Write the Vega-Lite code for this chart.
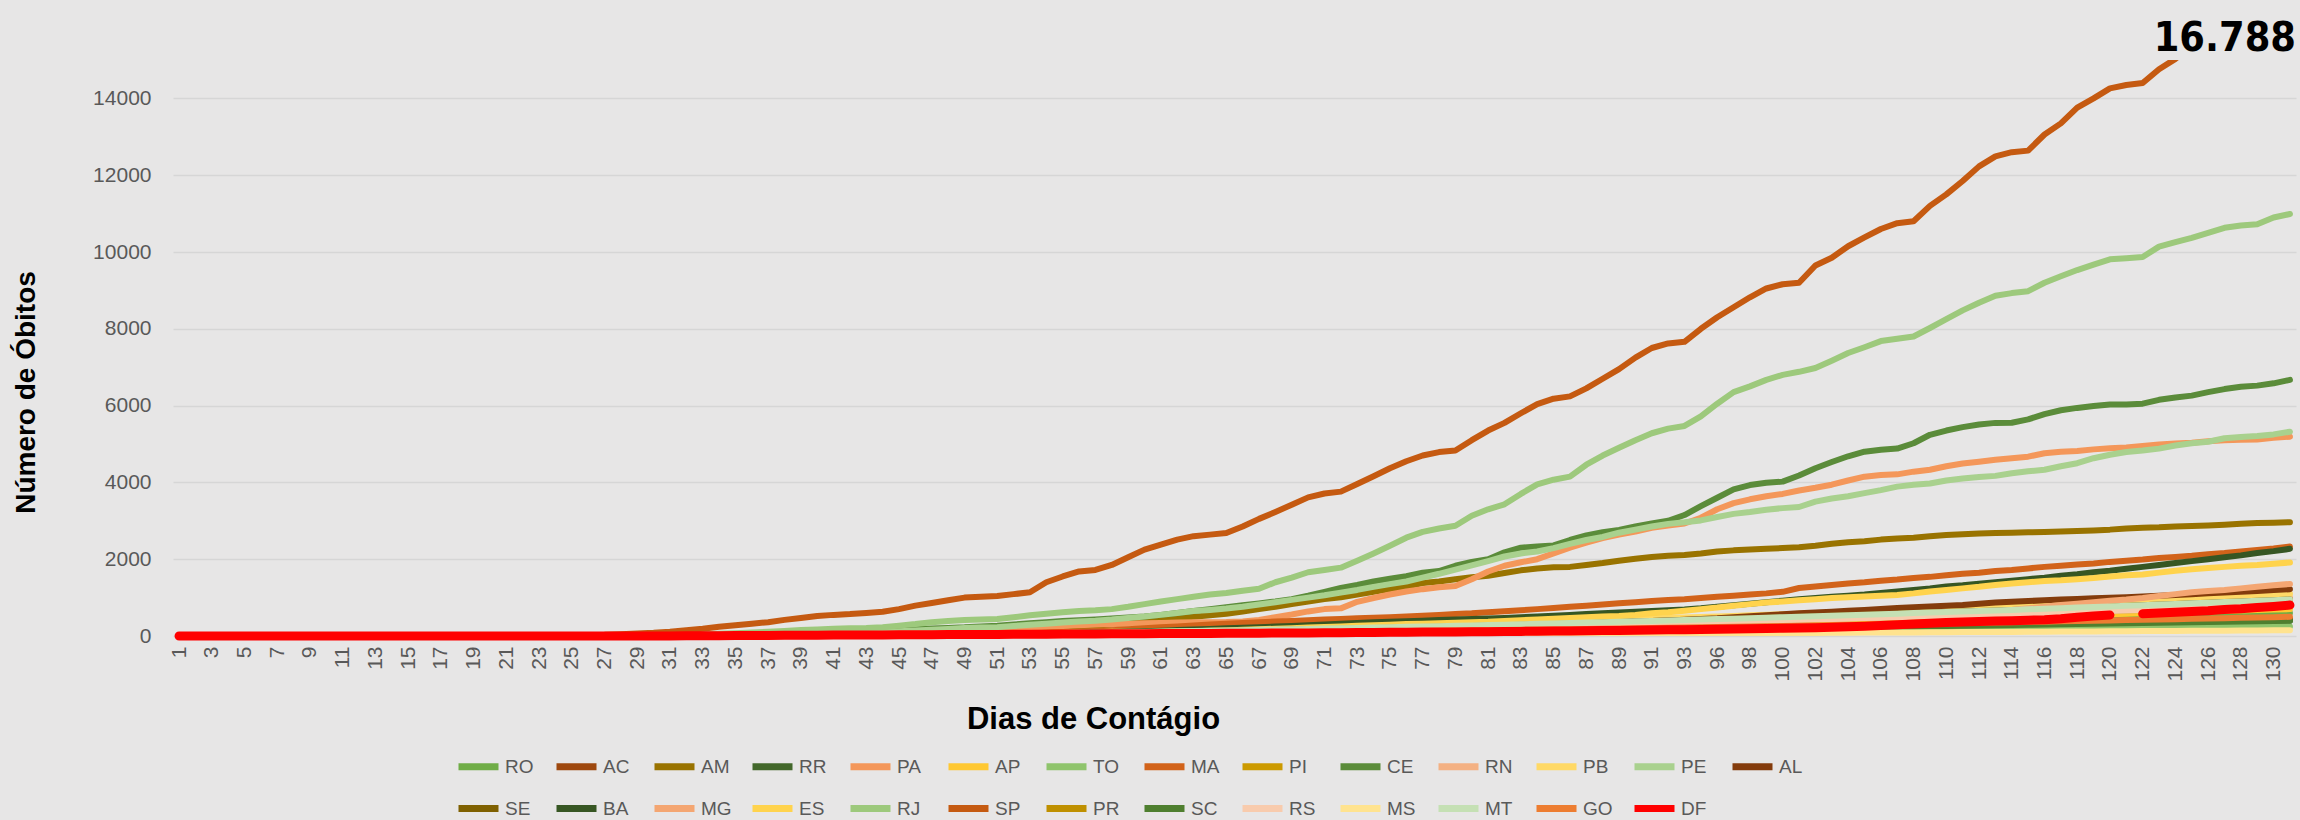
{"$schema":"https://vega.github.io/schema/vega-lite/v6.json","width":2123,"height":576,"autosize":{"type":"none"},"padding":{"left":173,"top":60,"right":4,"bottom":184},"background":"#e7e6e6","config":{"view":{"stroke":null},"font":"Liberation Sans"},"title":{"text":"16.788","anchor":"end","frame":"group","fontSize":41,"fontWeight":"bold","font":"Liberation Sans Narrow, DejaVu Sans Condensed, sans-serif","color":"#000000","baseline":"alphabetic","offset":-32},
"data":{"values":[
{"d":41,"s":"RO","v":0},{"d":42,"s":"RO","v":3},{"d":43,"s":"RO","v":5},{"d":44,"s":"RO","v":8},{"d":45,"s":"RO","v":11},{"d":46,"s":"RO","v":14},{"d":47,"s":"RO","v":18},{"d":48,"s":"RO","v":21},{"d":49,"s":"RO","v":25},{"d":50,"s":"RO","v":28},{"d":51,"s":"RO","v":32},{"d":52,"s":"RO","v":35},{"d":53,"s":"RO","v":39},{"d":54,"s":"RO","v":43},{"d":55,"s":"RO","v":47},{"d":56,"s":"RO","v":50},{"d":57,"s":"RO","v":55},{"d":58,"s":"RO","v":59},{"d":59,"s":"RO","v":63},{"d":60,"s":"RO","v":68},{"d":61,"s":"RO","v":72},{"d":62,"s":"RO","v":77},{"d":63,"s":"RO","v":82},{"d":64,"s":"RO","v":86},{"d":65,"s":"RO","v":91},{"d":66,"s":"RO","v":96},{"d":67,"s":"RO","v":101},{"d":68,"s":"RO","v":106},{"d":69,"s":"RO","v":111},{"d":70,"s":"RO","v":116},{"d":71,"s":"RO","v":122},{"d":72,"s":"RO","v":127},{"d":73,"s":"RO","v":133},{"d":74,"s":"RO","v":139},{"d":75,"s":"RO","v":144},{"d":76,"s":"RO","v":150},{"d":77,"s":"RO","v":156},{"d":78,"s":"RO","v":162},{"d":79,"s":"RO","v":168},{"d":80,"s":"RO","v":174},{"d":81,"s":"RO","v":181},{"d":82,"s":"RO","v":187},{"d":83,"s":"RO","v":193},{"d":84,"s":"RO","v":200},{"d":85,"s":"RO","v":206},{"d":86,"s":"RO","v":214},{"d":87,"s":"RO","v":220},{"d":88,"s":"RO","v":227},{"d":89,"s":"RO","v":234},{"d":90,"s":"RO","v":241},{"d":91,"s":"RO","v":248},{"d":92,"s":"RO","v":256},{"d":93,"s":"RO","v":263},{"d":94,"s":"RO","v":271},{"d":96,"s":"RO","v":278},{"d":97,"s":"RO","v":286},{"d":98,"s":"RO","v":293},{"d":99,"s":"RO","v":301},{"d":100,"s":"RO","v":309},{"d":101,"s":"RO","v":317},{"d":102,"s":"RO","v":325},{"d":103,"s":"RO","v":334},{"d":104,"s":"RO","v":342},{"d":105,"s":"RO","v":350},{"d":106,"s":"RO","v":359},{"d":107,"s":"RO","v":367},{"d":108,"s":"RO","v":376},{"d":109,"s":"RO","v":385},{"d":110,"s":"RO","v":394},{"d":111,"s":"RO","v":403},{"d":112,"s":"RO","v":412},{"d":113,"s":"RO","v":421},{"d":114,"s":"RO","v":430},{"d":115,"s":"RO","v":439},{"d":116,"s":"RO","v":448},{"d":117,"s":"RO","v":458},{"d":118,"s":"RO","v":467},{"d":119,"s":"RO","v":477},{"d":120,"s":"RO","v":487},{"d":121,"s":"RO","v":497},{"d":122,"s":"RO","v":506},{"d":123,"s":"RO","v":517},{"d":124,"s":"RO","v":527},{"d":125,"s":"RO","v":537},{"d":126,"s":"RO","v":547},{"d":127,"s":"RO","v":557},{"d":128,"s":"RO","v":568},{"d":129,"s":"RO","v":578},{"d":130,"s":"RO","v":589},{"d":131,"s":"RO","v":600},
{"d":41,"s":"AC","v":0},{"d":42,"s":"AC","v":2},{"d":43,"s":"AC","v":4},{"d":44,"s":"AC","v":6},{"d":45,"s":"AC","v":9},{"d":46,"s":"AC","v":11},{"d":47,"s":"AC","v":14},{"d":48,"s":"AC","v":16},{"d":49,"s":"AC","v":18},{"d":50,"s":"AC","v":21},{"d":51,"s":"AC","v":24},{"d":52,"s":"AC","v":27},{"d":53,"s":"AC","v":29},{"d":54,"s":"AC","v":32},{"d":55,"s":"AC","v":35},{"d":56,"s":"AC","v":38},{"d":57,"s":"AC","v":41},{"d":58,"s":"AC","v":44},{"d":59,"s":"AC","v":47},{"d":60,"s":"AC","v":51},{"d":61,"s":"AC","v":54},{"d":62,"s":"AC","v":58},{"d":63,"s":"AC","v":61},{"d":64,"s":"AC","v":64},{"d":65,"s":"AC","v":68},{"d":66,"s":"AC","v":72},{"d":67,"s":"AC","v":76},{"d":68,"s":"AC","v":80},{"d":69,"s":"AC","v":83},{"d":70,"s":"AC","v":87},{"d":71,"s":"AC","v":91},{"d":72,"s":"AC","v":95},{"d":73,"s":"AC","v":99},{"d":74,"s":"AC","v":104},{"d":75,"s":"AC","v":108},{"d":76,"s":"AC","v":113},{"d":77,"s":"AC","v":117},{"d":78,"s":"AC","v":122},{"d":79,"s":"AC","v":126},{"d":80,"s":"AC","v":131},{"d":81,"s":"AC","v":135},{"d":82,"s":"AC","v":140},{"d":83,"s":"AC","v":145},{"d":84,"s":"AC","v":150},{"d":85,"s":"AC","v":155},{"d":86,"s":"AC","v":160},{"d":87,"s":"AC","v":165},{"d":88,"s":"AC","v":171},{"d":89,"s":"AC","v":176},{"d":90,"s":"AC","v":181},{"d":91,"s":"AC","v":186},{"d":92,"s":"AC","v":192},{"d":93,"s":"AC","v":198},{"d":94,"s":"AC","v":203},{"d":96,"s":"AC","v":209},{"d":97,"s":"AC","v":214},{"d":98,"s":"AC","v":220},{"d":99,"s":"AC","v":226},{"d":100,"s":"AC","v":232},{"d":101,"s":"AC","v":238},{"d":102,"s":"AC","v":244},{"d":103,"s":"AC","v":250},{"d":104,"s":"AC","v":257},{"d":105,"s":"AC","v":263},{"d":106,"s":"AC","v":269},{"d":107,"s":"AC","v":275},{"d":108,"s":"AC","v":282},{"d":109,"s":"AC","v":288},{"d":110,"s":"AC","v":295},{"d":111,"s":"AC","v":302},{"d":112,"s":"AC","v":309},{"d":113,"s":"AC","v":315},{"d":114,"s":"AC","v":322},{"d":115,"s":"AC","v":329},{"d":116,"s":"AC","v":336},{"d":117,"s":"AC","v":343},{"d":118,"s":"AC","v":351},{"d":119,"s":"AC","v":358},{"d":120,"s":"AC","v":365},{"d":121,"s":"AC","v":373},{"d":122,"s":"AC","v":380},{"d":123,"s":"AC","v":387},{"d":124,"s":"AC","v":395},{"d":125,"s":"AC","v":403},{"d":126,"s":"AC","v":410},{"d":127,"s":"AC","v":418},{"d":128,"s":"AC","v":426},{"d":129,"s":"AC","v":434},{"d":130,"s":"AC","v":442},{"d":131,"s":"AC","v":450},
{"d":34,"s":"AM","v":0},{"d":35,"s":"AM","v":1},{"d":36,"s":"AM","v":2},{"d":37,"s":"AM","v":3},{"d":38,"s":"AM","v":4},{"d":39,"s":"AM","v":6},{"d":40,"s":"AM","v":8},{"d":41,"s":"AM","v":12},{"d":42,"s":"AM","v":16},{"d":43,"s":"AM","v":20},{"d":44,"s":"AM","v":25},{"d":45,"s":"AM","v":30},{"d":46,"s":"AM","v":40},{"d":47,"s":"AM","v":50},{"d":48,"s":"AM","v":62},{"d":49,"s":"AM","v":75},{"d":50,"s":"AM","v":90},{"d":51,"s":"AM","v":105},{"d":52,"s":"AM","v":125},{"d":53,"s":"AM","v":150},{"d":54,"s":"AM","v":180},{"d":55,"s":"AM","v":210},{"d":56,"s":"AM","v":240},{"d":57,"s":"AM","v":270},{"d":58,"s":"AM","v":300},{"d":59,"s":"AM","v":340},{"d":60,"s":"AM","v":380},{"d":61,"s":"AM","v":420},{"d":62,"s":"AM","v":460},{"d":63,"s":"AM","v":500},{"d":64,"s":"AM","v":540},{"d":65,"s":"AM","v":580},{"d":66,"s":"AM","v":640},{"d":67,"s":"AM","v":700},{"d":68,"s":"AM","v":760},{"d":69,"s":"AM","v":830},{"d":70,"s":"AM","v":900},{"d":71,"s":"AM","v":960},{"d":72,"s":"AM","v":1010},{"d":73,"s":"AM","v":1080},{"d":74,"s":"AM","v":1150},{"d":75,"s":"AM","v":1220},{"d":76,"s":"AM","v":1290},{"d":77,"s":"AM","v":1380},{"d":78,"s":"AM","v":1420},{"d":79,"s":"AM","v":1480},{"d":80,"s":"AM","v":1530},{"d":81,"s":"AM","v":1570},{"d":82,"s":"AM","v":1640},{"d":83,"s":"AM","v":1710},{"d":84,"s":"AM","v":1760},{"d":85,"s":"AM","v":1790},{"d":86,"s":"AM","v":1800},{"d":87,"s":"AM","v":1850},{"d":88,"s":"AM","v":1900},{"d":89,"s":"AM","v":1960},{"d":90,"s":"AM","v":2010},{"d":91,"s":"AM","v":2060},{"d":92,"s":"AM","v":2090},{"d":93,"s":"AM","v":2110},{"d":94,"s":"AM","v":2150},{"d":96,"s":"AM","v":2200},{"d":97,"s":"AM","v":2230},{"d":98,"s":"AM","v":2250},{"d":99,"s":"AM","v":2270},{"d":100,"s":"AM","v":2290},{"d":101,"s":"AM","v":2310},{"d":102,"s":"AM","v":2350},{"d":103,"s":"AM","v":2400},{"d":104,"s":"AM","v":2440},{"d":105,"s":"AM","v":2470},{"d":106,"s":"AM","v":2510},{"d":107,"s":"AM","v":2540},{"d":108,"s":"AM","v":2560},{"d":109,"s":"AM","v":2600},{"d":110,"s":"AM","v":2630},{"d":111,"s":"AM","v":2650},{"d":112,"s":"AM","v":2670},{"d":113,"s":"AM","v":2680},{"d":114,"s":"AM","v":2690},{"d":115,"s":"AM","v":2700},{"d":116,"s":"AM","v":2710},{"d":117,"s":"AM","v":2720},{"d":118,"s":"AM","v":2735},{"d":119,"s":"AM","v":2750},{"d":120,"s":"AM","v":2770},{"d":121,"s":"AM","v":2800},{"d":122,"s":"AM","v":2820},{"d":123,"s":"AM","v":2830},{"d":124,"s":"AM","v":2850},{"d":125,"s":"AM","v":2865},{"d":126,"s":"AM","v":2880},{"d":127,"s":"AM","v":2900},{"d":128,"s":"AM","v":2925},{"d":129,"s":"AM","v":2940},{"d":130,"s":"AM","v":2950},{"d":131,"s":"AM","v":2965},
{"d":41,"s":"RR","v":0},{"d":42,"s":"RR","v":2},{"d":43,"s":"RR","v":4},{"d":44,"s":"RR","v":6},{"d":45,"s":"RR","v":8},{"d":46,"s":"RR","v":10},{"d":47,"s":"RR","v":12},{"d":48,"s":"RR","v":14},{"d":49,"s":"RR","v":16},{"d":50,"s":"RR","v":19},{"d":51,"s":"RR","v":21},{"d":52,"s":"RR","v":24},{"d":53,"s":"RR","v":26},{"d":54,"s":"RR","v":28},{"d":55,"s":"RR","v":31},{"d":56,"s":"RR","v":34},{"d":57,"s":"RR","v":36},{"d":58,"s":"RR","v":39},{"d":59,"s":"RR","v":42},{"d":60,"s":"RR","v":45},{"d":61,"s":"RR","v":48},{"d":62,"s":"RR","v":51},{"d":63,"s":"RR","v":54},{"d":64,"s":"RR","v":57},{"d":65,"s":"RR","v":60},{"d":66,"s":"RR","v":64},{"d":67,"s":"RR","v":67},{"d":68,"s":"RR","v":71},{"d":69,"s":"RR","v":74},{"d":70,"s":"RR","v":78},{"d":71,"s":"RR","v":81},{"d":72,"s":"RR","v":85},{"d":73,"s":"RR","v":88},{"d":74,"s":"RR","v":92},{"d":75,"s":"RR","v":96},{"d":76,"s":"RR","v":100},{"d":77,"s":"RR","v":104},{"d":78,"s":"RR","v":108},{"d":79,"s":"RR","v":112},{"d":80,"s":"RR","v":116},{"d":81,"s":"RR","v":120},{"d":82,"s":"RR","v":125},{"d":83,"s":"RR","v":129},{"d":84,"s":"RR","v":133},{"d":85,"s":"RR","v":138},{"d":86,"s":"RR","v":142},{"d":87,"s":"RR","v":147},{"d":88,"s":"RR","v":152},{"d":89,"s":"RR","v":156},{"d":90,"s":"RR","v":161},{"d":91,"s":"RR","v":166},{"d":92,"s":"RR","v":170},{"d":93,"s":"RR","v":176},{"d":94,"s":"RR","v":180},{"d":96,"s":"RR","v":186},{"d":97,"s":"RR","v":190},{"d":98,"s":"RR","v":196},{"d":99,"s":"RR","v":201},{"d":100,"s":"RR","v":206},{"d":101,"s":"RR","v":212},{"d":102,"s":"RR","v":217},{"d":103,"s":"RR","v":222},{"d":104,"s":"RR","v":228},{"d":105,"s":"RR","v":234},{"d":106,"s":"RR","v":239},{"d":107,"s":"RR","v":245},{"d":108,"s":"RR","v":251},{"d":109,"s":"RR","v":256},{"d":110,"s":"RR","v":262},{"d":111,"s":"RR","v":268},{"d":112,"s":"RR","v":274},{"d":113,"s":"RR","v":280},{"d":114,"s":"RR","v":286},{"d":115,"s":"RR","v":293},{"d":116,"s":"RR","v":299},{"d":117,"s":"RR","v":305},{"d":118,"s":"RR","v":312},{"d":119,"s":"RR","v":318},{"d":120,"s":"RR","v":324},{"d":121,"s":"RR","v":331},{"d":122,"s":"RR","v":338},{"d":123,"s":"RR","v":344},{"d":124,"s":"RR","v":351},{"d":125,"s":"RR","v":358},{"d":126,"s":"RR","v":365},{"d":127,"s":"RR","v":372},{"d":128,"s":"RR","v":379},{"d":129,"s":"RR","v":386},{"d":130,"s":"RR","v":393},{"d":131,"s":"RR","v":400},
{"d":31,"s":"PA","v":0},{"d":32,"s":"PA","v":1},{"d":33,"s":"PA","v":2},{"d":34,"s":"PA","v":3},{"d":35,"s":"PA","v":5},{"d":36,"s":"PA","v":8},{"d":37,"s":"PA","v":12},{"d":38,"s":"PA","v":17},{"d":39,"s":"PA","v":22},{"d":40,"s":"PA","v":28},{"d":41,"s":"PA","v":35},{"d":42,"s":"PA","v":42},{"d":43,"s":"PA","v":50},{"d":44,"s":"PA","v":60},{"d":45,"s":"PA","v":75},{"d":46,"s":"PA","v":90},{"d":47,"s":"PA","v":105},{"d":48,"s":"PA","v":120},{"d":49,"s":"PA","v":140},{"d":50,"s":"PA","v":160},{"d":51,"s":"PA","v":180},{"d":52,"s":"PA","v":200},{"d":53,"s":"PA","v":220},{"d":54,"s":"PA","v":240},{"d":55,"s":"PA","v":260},{"d":56,"s":"PA","v":280},{"d":57,"s":"PA","v":300},{"d":58,"s":"PA","v":310},{"d":59,"s":"PA","v":320},{"d":60,"s":"PA","v":330},{"d":61,"s":"PA","v":340},{"d":62,"s":"PA","v":350},{"d":63,"s":"PA","v":355},{"d":64,"s":"PA","v":360},{"d":65,"s":"PA","v":365},{"d":66,"s":"PA","v":380},{"d":67,"s":"PA","v":420},{"d":68,"s":"PA","v":490},{"d":69,"s":"PA","v":560},{"d":70,"s":"PA","v":640},{"d":71,"s":"PA","v":700},{"d":72,"s":"PA","v":720},{"d":73,"s":"PA","v":890},{"d":74,"s":"PA","v":990},{"d":75,"s":"PA","v":1080},{"d":76,"s":"PA","v":1160},{"d":77,"s":"PA","v":1220},{"d":78,"s":"PA","v":1270},{"d":79,"s":"PA","v":1300},{"d":80,"s":"PA","v":1480},{"d":81,"s":"PA","v":1680},{"d":82,"s":"PA","v":1830},{"d":83,"s":"PA","v":1920},{"d":84,"s":"PA","v":2000},{"d":85,"s":"PA","v":2150},{"d":86,"s":"PA","v":2300},{"d":87,"s":"PA","v":2430},{"d":88,"s":"PA","v":2550},{"d":89,"s":"PA","v":2640},{"d":90,"s":"PA","v":2720},{"d":91,"s":"PA","v":2820},{"d":92,"s":"PA","v":2880},{"d":93,"s":"PA","v":2930},{"d":94,"s":"PA","v":3080},{"d":96,"s":"PA","v":3300},{"d":97,"s":"PA","v":3460},{"d":98,"s":"PA","v":3560},{"d":99,"s":"PA","v":3640},{"d":100,"s":"PA","v":3700},{"d":101,"s":"PA","v":3790},{"d":102,"s":"PA","v":3860},{"d":103,"s":"PA","v":3940},{"d":104,"s":"PA","v":4050},{"d":105,"s":"PA","v":4150},{"d":106,"s":"PA","v":4190},{"d":107,"s":"PA","v":4210},{"d":108,"s":"PA","v":4280},{"d":109,"s":"PA","v":4330},{"d":110,"s":"PA","v":4420},{"d":111,"s":"PA","v":4490},{"d":112,"s":"PA","v":4540},{"d":113,"s":"PA","v":4590},{"d":114,"s":"PA","v":4630},{"d":115,"s":"PA","v":4670},{"d":116,"s":"PA","v":4760},{"d":117,"s":"PA","v":4800},{"d":118,"s":"PA","v":4820},{"d":119,"s":"PA","v":4860},{"d":120,"s":"PA","v":4890},{"d":121,"s":"PA","v":4910},{"d":122,"s":"PA","v":4950},{"d":123,"s":"PA","v":4990},{"d":124,"s":"PA","v":5010},{"d":125,"s":"PA","v":5030},{"d":126,"s":"PA","v":5070},{"d":127,"s":"PA","v":5100},{"d":128,"s":"PA","v":5110},{"d":129,"s":"PA","v":5120},{"d":130,"s":"PA","v":5160},{"d":131,"s":"PA","v":5190},
{"d":41,"s":"AP","v":0},{"d":42,"s":"AP","v":4},{"d":43,"s":"AP","v":6},{"d":44,"s":"AP","v":10},{"d":45,"s":"AP","v":13},{"d":46,"s":"AP","v":17},{"d":47,"s":"AP","v":21},{"d":48,"s":"AP","v":25},{"d":49,"s":"AP","v":29},{"d":50,"s":"AP","v":33},{"d":51,"s":"AP","v":37},{"d":52,"s":"AP","v":41},{"d":53,"s":"AP","v":46},{"d":54,"s":"AP","v":50},{"d":55,"s":"AP","v":55},{"d":56,"s":"AP","v":59},{"d":57,"s":"AP","v":64},{"d":58,"s":"AP","v":69},{"d":59,"s":"AP","v":74},{"d":60,"s":"AP","v":79},{"d":61,"s":"AP","v":84},{"d":62,"s":"AP","v":90},{"d":63,"s":"AP","v":95},{"d":64,"s":"AP","v":100},{"d":65,"s":"AP","v":106},{"d":66,"s":"AP","v":112},{"d":67,"s":"AP","v":118},{"d":68,"s":"AP","v":124},{"d":69,"s":"AP","v":130},{"d":70,"s":"AP","v":136},{"d":71,"s":"AP","v":142},{"d":72,"s":"AP","v":148},{"d":73,"s":"AP","v":155},{"d":74,"s":"AP","v":162},{"d":75,"s":"AP","v":168},{"d":76,"s":"AP","v":175},{"d":77,"s":"AP","v":182},{"d":78,"s":"AP","v":189},{"d":79,"s":"AP","v":196},{"d":80,"s":"AP","v":203},{"d":81,"s":"AP","v":211},{"d":82,"s":"AP","v":218},{"d":83,"s":"AP","v":225},{"d":84,"s":"AP","v":233},{"d":85,"s":"AP","v":241},{"d":86,"s":"AP","v":249},{"d":87,"s":"AP","v":257},{"d":88,"s":"AP","v":265},{"d":89,"s":"AP","v":273},{"d":90,"s":"AP","v":281},{"d":91,"s":"AP","v":290},{"d":92,"s":"AP","v":298},{"d":93,"s":"AP","v":307},{"d":94,"s":"AP","v":316},{"d":96,"s":"AP","v":325},{"d":97,"s":"AP","v":333},{"d":98,"s":"AP","v":342},{"d":99,"s":"AP","v":351},{"d":100,"s":"AP","v":361},{"d":101,"s":"AP","v":370},{"d":102,"s":"AP","v":379},{"d":103,"s":"AP","v":389},{"d":104,"s":"AP","v":399},{"d":105,"s":"AP","v":409},{"d":106,"s":"AP","v":419},{"d":107,"s":"AP","v":428},{"d":108,"s":"AP","v":439},{"d":109,"s":"AP","v":449},{"d":110,"s":"AP","v":459},{"d":111,"s":"AP","v":470},{"d":112,"s":"AP","v":480},{"d":113,"s":"AP","v":491},{"d":114,"s":"AP","v":501},{"d":115,"s":"AP","v":512},{"d":116,"s":"AP","v":523},{"d":117,"s":"AP","v":534},{"d":118,"s":"AP","v":545},{"d":119,"s":"AP","v":557},{"d":120,"s":"AP","v":568},{"d":121,"s":"AP","v":580},{"d":122,"s":"AP","v":591},{"d":123,"s":"AP","v":603},{"d":124,"s":"AP","v":615},{"d":125,"s":"AP","v":627},{"d":126,"s":"AP","v":638},{"d":127,"s":"AP","v":650},{"d":128,"s":"AP","v":663},{"d":129,"s":"AP","v":675},{"d":130,"s":"AP","v":687},{"d":131,"s":"AP","v":700},
{"d":41,"s":"TO","v":0},{"d":42,"s":"TO","v":1},{"d":43,"s":"TO","v":2},{"d":44,"s":"TO","v":4},{"d":45,"s":"TO","v":5},{"d":46,"s":"TO","v":6},{"d":47,"s":"TO","v":8},{"d":48,"s":"TO","v":9},{"d":49,"s":"TO","v":10},{"d":50,"s":"TO","v":12},{"d":51,"s":"TO","v":13},{"d":52,"s":"TO","v":15},{"d":53,"s":"TO","v":16},{"d":54,"s":"TO","v":18},{"d":55,"s":"TO","v":20},{"d":56,"s":"TO","v":21},{"d":57,"s":"TO","v":23},{"d":58,"s":"TO","v":25},{"d":59,"s":"TO","v":26},{"d":60,"s":"TO","v":28},{"d":61,"s":"TO","v":30},{"d":62,"s":"TO","v":32},{"d":63,"s":"TO","v":34},{"d":64,"s":"TO","v":36},{"d":65,"s":"TO","v":38},{"d":66,"s":"TO","v":40},{"d":67,"s":"TO","v":42},{"d":68,"s":"TO","v":44},{"d":69,"s":"TO","v":46},{"d":70,"s":"TO","v":49},{"d":71,"s":"TO","v":51},{"d":72,"s":"TO","v":53},{"d":73,"s":"TO","v":55},{"d":74,"s":"TO","v":58},{"d":75,"s":"TO","v":60},{"d":76,"s":"TO","v":63},{"d":77,"s":"TO","v":65},{"d":78,"s":"TO","v":68},{"d":79,"s":"TO","v":70},{"d":80,"s":"TO","v":73},{"d":81,"s":"TO","v":75},{"d":82,"s":"TO","v":78},{"d":83,"s":"TO","v":81},{"d":84,"s":"TO","v":83},{"d":85,"s":"TO","v":86},{"d":86,"s":"TO","v":89},{"d":87,"s":"TO","v":92},{"d":88,"s":"TO","v":95},{"d":89,"s":"TO","v":98},{"d":90,"s":"TO","v":101},{"d":91,"s":"TO","v":104},{"d":92,"s":"TO","v":107},{"d":93,"s":"TO","v":110},{"d":94,"s":"TO","v":113},{"d":96,"s":"TO","v":116},{"d":97,"s":"TO","v":119},{"d":98,"s":"TO","v":122},{"d":99,"s":"TO","v":126},{"d":100,"s":"TO","v":129},{"d":101,"s":"TO","v":132},{"d":102,"s":"TO","v":136},{"d":103,"s":"TO","v":139},{"d":104,"s":"TO","v":143},{"d":105,"s":"TO","v":146},{"d":106,"s":"TO","v":150},{"d":107,"s":"TO","v":153},{"d":108,"s":"TO","v":157},{"d":109,"s":"TO","v":160},{"d":110,"s":"TO","v":164},{"d":111,"s":"TO","v":168},{"d":112,"s":"TO","v":172},{"d":113,"s":"TO","v":175},{"d":114,"s":"TO","v":179},{"d":115,"s":"TO","v":183},{"d":116,"s":"TO","v":187},{"d":117,"s":"TO","v":191},{"d":118,"s":"TO","v":195},{"d":119,"s":"TO","v":199},{"d":120,"s":"TO","v":203},{"d":121,"s":"TO","v":207},{"d":122,"s":"TO","v":211},{"d":123,"s":"TO","v":215},{"d":124,"s":"TO","v":220},{"d":125,"s":"TO","v":224},{"d":126,"s":"TO","v":228},{"d":127,"s":"TO","v":232},{"d":128,"s":"TO","v":237},{"d":129,"s":"TO","v":241},{"d":130,"s":"TO","v":246},{"d":131,"s":"TO","v":250},
{"d":37,"s":"MA","v":0},{"d":38,"s":"MA","v":1},{"d":39,"s":"MA","v":2},{"d":40,"s":"MA","v":4},{"d":41,"s":"MA","v":6},{"d":42,"s":"MA","v":8},{"d":43,"s":"MA","v":10},{"d":44,"s":"MA","v":13},{"d":45,"s":"MA","v":17},{"d":46,"s":"MA","v":22},{"d":47,"s":"MA","v":28},{"d":48,"s":"MA","v":35},{"d":49,"s":"MA","v":42},{"d":50,"s":"MA","v":50},{"d":51,"s":"MA","v":58},{"d":52,"s":"MA","v":66},{"d":53,"s":"MA","v":75},{"d":54,"s":"MA","v":85},{"d":55,"s":"MA","v":100},{"d":56,"s":"MA","v":115},{"d":57,"s":"MA","v":130},{"d":58,"s":"MA","v":150},{"d":59,"s":"MA","v":175},{"d":60,"s":"MA","v":200},{"d":61,"s":"MA","v":225},{"d":62,"s":"MA","v":250},{"d":63,"s":"MA","v":275},{"d":64,"s":"MA","v":300},{"d":65,"s":"MA","v":320},{"d":66,"s":"MA","v":340},{"d":67,"s":"MA","v":360},{"d":68,"s":"MA","v":375},{"d":69,"s":"MA","v":390},{"d":70,"s":"MA","v":410},{"d":71,"s":"MA","v":430},{"d":72,"s":"MA","v":445},{"d":73,"s":"MA","v":460},{"d":74,"s":"MA","v":475},{"d":75,"s":"MA","v":490},{"d":76,"s":"MA","v":510},{"d":77,"s":"MA","v":530},{"d":78,"s":"MA","v":550},{"d":79,"s":"MA","v":570},{"d":80,"s":"MA","v":590},{"d":81,"s":"MA","v":620},{"d":82,"s":"MA","v":645},{"d":83,"s":"MA","v":670},{"d":84,"s":"MA","v":700},{"d":85,"s":"MA","v":730},{"d":86,"s":"MA","v":760},{"d":87,"s":"MA","v":790},{"d":88,"s":"MA","v":820},{"d":89,"s":"MA","v":850},{"d":90,"s":"MA","v":880},{"d":91,"s":"MA","v":910},{"d":92,"s":"MA","v":940},{"d":93,"s":"MA","v":960},{"d":94,"s":"MA","v":990},{"d":96,"s":"MA","v":1020},{"d":97,"s":"MA","v":1050},{"d":98,"s":"MA","v":1080},{"d":99,"s":"MA","v":1110},{"d":100,"s":"MA","v":1150},{"d":101,"s":"MA","v":1250},{"d":102,"s":"MA","v":1290},{"d":103,"s":"MA","v":1330},{"d":104,"s":"MA","v":1370},{"d":105,"s":"MA","v":1400},{"d":106,"s":"MA","v":1440},{"d":107,"s":"MA","v":1470},{"d":108,"s":"MA","v":1510},{"d":109,"s":"MA","v":1540},{"d":110,"s":"MA","v":1580},{"d":111,"s":"MA","v":1620},{"d":112,"s":"MA","v":1650},{"d":113,"s":"MA","v":1690},{"d":114,"s":"MA","v":1720},{"d":115,"s":"MA","v":1760},{"d":116,"s":"MA","v":1800},{"d":117,"s":"MA","v":1830},{"d":118,"s":"MA","v":1860},{"d":119,"s":"MA","v":1890},{"d":120,"s":"MA","v":1930},{"d":121,"s":"MA","v":1960},{"d":122,"s":"MA","v":1990},{"d":123,"s":"MA","v":2030},{"d":124,"s":"MA","v":2060},{"d":125,"s":"MA","v":2090},{"d":126,"s":"MA","v":2130},{"d":127,"s":"MA","v":2160},{"d":128,"s":"MA","v":2200},{"d":129,"s":"MA","v":2240},{"d":130,"s":"MA","v":2280},{"d":131,"s":"MA","v":2330},
{"d":41,"s":"PI","v":0},{"d":42,"s":"PI","v":4},{"d":43,"s":"PI","v":7},{"d":44,"s":"PI","v":11},{"d":45,"s":"PI","v":15},{"d":46,"s":"PI","v":19},{"d":47,"s":"PI","v":24},{"d":48,"s":"PI","v":28},{"d":49,"s":"PI","v":33},{"d":50,"s":"PI","v":38},{"d":51,"s":"PI","v":42},{"d":52,"s":"PI","v":47},{"d":53,"s":"PI","v":52},{"d":54,"s":"PI","v":57},{"d":55,"s":"PI","v":62},{"d":56,"s":"PI","v":67},{"d":57,"s":"PI","v":73},{"d":58,"s":"PI","v":78},{"d":59,"s":"PI","v":84},{"d":60,"s":"PI","v":90},{"d":61,"s":"PI","v":96},{"d":62,"s":"PI","v":102},{"d":63,"s":"PI","v":109},{"d":64,"s":"PI","v":114},{"d":65,"s":"PI","v":121},{"d":66,"s":"PI","v":128},{"d":67,"s":"PI","v":134},{"d":68,"s":"PI","v":142},{"d":69,"s":"PI","v":148},{"d":70,"s":"PI","v":155},{"d":71,"s":"PI","v":162},{"d":72,"s":"PI","v":170},{"d":73,"s":"PI","v":177},{"d":74,"s":"PI","v":185},{"d":75,"s":"PI","v":192},{"d":76,"s":"PI","v":200},{"d":77,"s":"PI","v":208},{"d":78,"s":"PI","v":216},{"d":79,"s":"PI","v":224},{"d":80,"s":"PI","v":232},{"d":81,"s":"PI","v":241},{"d":82,"s":"PI","v":250},{"d":83,"s":"PI","v":258},{"d":84,"s":"PI","v":266},{"d":85,"s":"PI","v":275},{"d":86,"s":"PI","v":285},{"d":87,"s":"PI","v":294},{"d":88,"s":"PI","v":303},{"d":89,"s":"PI","v":312},{"d":90,"s":"PI","v":322},{"d":91,"s":"PI","v":331},{"d":92,"s":"PI","v":341},{"d":93,"s":"PI","v":351},{"d":94,"s":"PI","v":361},{"d":96,"s":"PI","v":371},{"d":97,"s":"PI","v":381},{"d":98,"s":"PI","v":391},{"d":99,"s":"PI","v":402},{"d":100,"s":"PI","v":412},{"d":101,"s":"PI","v":423},{"d":102,"s":"PI","v":434},{"d":103,"s":"PI","v":445},{"d":104,"s":"PI","v":456},{"d":105,"s":"PI","v":467},{"d":106,"s":"PI","v":478},{"d":107,"s":"PI","v":490},{"d":108,"s":"PI","v":502},{"d":109,"s":"PI","v":513},{"d":110,"s":"PI","v":525},{"d":111,"s":"PI","v":537},{"d":112,"s":"PI","v":549},{"d":113,"s":"PI","v":561},{"d":114,"s":"PI","v":573},{"d":115,"s":"PI","v":586},{"d":116,"s":"PI","v":598},{"d":117,"s":"PI","v":610},{"d":118,"s":"PI","v":623},{"d":119,"s":"PI","v":636},{"d":120,"s":"PI","v":649},{"d":121,"s":"PI","v":662},{"d":122,"s":"PI","v":675},{"d":123,"s":"PI","v":689},{"d":124,"s":"PI","v":702},{"d":125,"s":"PI","v":716},{"d":126,"s":"PI","v":730},{"d":127,"s":"PI","v":743},{"d":128,"s":"PI","v":758},{"d":129,"s":"PI","v":771},{"d":130,"s":"PI","v":786},{"d":131,"s":"PI","v":800},
{"d":26,"s":"CE","v":0},{"d":27,"s":"CE","v":1},{"d":28,"s":"CE","v":3},{"d":29,"s":"CE","v":5},{"d":30,"s":"CE","v":8},{"d":31,"s":"CE","v":11},{"d":32,"s":"CE","v":18},{"d":33,"s":"CE","v":22},{"d":34,"s":"CE","v":26},{"d":35,"s":"CE","v":29},{"d":36,"s":"CE","v":40},{"d":37,"s":"CE","v":48},{"d":38,"s":"CE","v":58},{"d":39,"s":"CE","v":74},{"d":40,"s":"CE","v":88},{"d":41,"s":"CE","v":96},{"d":42,"s":"CE","v":101},{"d":43,"s":"CE","v":116},{"d":44,"s":"CE","v":130},{"d":45,"s":"CE","v":149},{"d":46,"s":"CE","v":176},{"d":47,"s":"CE","v":197},{"d":48,"s":"CE","v":210},{"d":49,"s":"CE","v":225},{"d":50,"s":"CE","v":250},{"d":51,"s":"CE","v":270},{"d":52,"s":"CE","v":300},{"d":53,"s":"CE","v":330},{"d":54,"s":"CE","v":360},{"d":55,"s":"CE","v":390},{"d":56,"s":"CE","v":410},{"d":57,"s":"CE","v":430},{"d":58,"s":"CE","v":455},{"d":59,"s":"CE","v":480},{"d":60,"s":"CE","v":510},{"d":61,"s":"CE","v":550},{"d":62,"s":"CE","v":600},{"d":63,"s":"CE","v":650},{"d":64,"s":"CE","v":700},{"d":65,"s":"CE","v":750},{"d":66,"s":"CE","v":800},{"d":67,"s":"CE","v":850},{"d":68,"s":"CE","v":900},{"d":69,"s":"CE","v":960},{"d":70,"s":"CE","v":1050},{"d":71,"s":"CE","v":1150},{"d":72,"s":"CE","v":1250},{"d":73,"s":"CE","v":1330},{"d":74,"s":"CE","v":1420},{"d":75,"s":"CE","v":1490},{"d":76,"s":"CE","v":1560},{"d":77,"s":"CE","v":1650},{"d":78,"s":"CE","v":1690},{"d":79,"s":"CE","v":1830},{"d":80,"s":"CE","v":1930},{"d":81,"s":"CE","v":2000},{"d":82,"s":"CE","v":2180},{"d":83,"s":"CE","v":2300},{"d":84,"s":"CE","v":2330},{"d":85,"s":"CE","v":2360},{"d":86,"s":"CE","v":2500},{"d":87,"s":"CE","v":2620},{"d":88,"s":"CE","v":2700},{"d":89,"s":"CE","v":2760},{"d":90,"s":"CE","v":2850},{"d":91,"s":"CE","v":2930},{"d":92,"s":"CE","v":3000},{"d":93,"s":"CE","v":3150},{"d":94,"s":"CE","v":3380},{"d":96,"s":"CE","v":3600},{"d":97,"s":"CE","v":3820},{"d":98,"s":"CE","v":3930},{"d":99,"s":"CE","v":3990},{"d":100,"s":"CE","v":4020},{"d":101,"s":"CE","v":4180},{"d":102,"s":"CE","v":4370},{"d":103,"s":"CE","v":4530},{"d":104,"s":"CE","v":4680},{"d":105,"s":"CE","v":4800},{"d":106,"s":"CE","v":4850},{"d":107,"s":"CE","v":4880},{"d":108,"s":"CE","v":5020},{"d":109,"s":"CE","v":5240},{"d":110,"s":"CE","v":5350},{"d":111,"s":"CE","v":5440},{"d":112,"s":"CE","v":5510},{"d":113,"s":"CE","v":5550},{"d":114,"s":"CE","v":5555},{"d":115,"s":"CE","v":5640},{"d":116,"s":"CE","v":5780},{"d":117,"s":"CE","v":5880},{"d":118,"s":"CE","v":5940},{"d":119,"s":"CE","v":5990},{"d":120,"s":"CE","v":6030},{"d":121,"s":"CE","v":6030},{"d":122,"s":"CE","v":6050},{"d":123,"s":"CE","v":6150},{"d":124,"s":"CE","v":6210},{"d":125,"s":"CE","v":6260},{"d":126,"s":"CE","v":6350},{"d":127,"s":"CE","v":6430},{"d":128,"s":"CE","v":6490},{"d":129,"s":"CE","v":6520},{"d":130,"s":"CE","v":6580},{"d":131,"s":"CE","v":6670},
{"d":41,"s":"RN","v":0},{"d":42,"s":"RN","v":5},{"d":43,"s":"RN","v":9},{"d":44,"s":"RN","v":14},{"d":45,"s":"RN","v":19},{"d":46,"s":"RN","v":24},{"d":47,"s":"RN","v":30},{"d":48,"s":"RN","v":35},{"d":49,"s":"RN","v":41},{"d":50,"s":"RN","v":47},{"d":51,"s":"RN","v":53},{"d":52,"s":"RN","v":59},{"d":53,"s":"RN","v":65},{"d":54,"s":"RN","v":71},{"d":55,"s":"RN","v":78},{"d":56,"s":"RN","v":84},{"d":57,"s":"RN","v":91},{"d":58,"s":"RN","v":98},{"d":59,"s":"RN","v":105},{"d":60,"s":"RN","v":113},{"d":61,"s":"RN","v":120},{"d":62,"s":"RN","v":128},{"d":63,"s":"RN","v":136},{"d":64,"s":"RN","v":143},{"d":65,"s":"RN","v":151},{"d":66,"s":"RN","v":160},{"d":67,"s":"RN","v":168},{"d":68,"s":"RN","v":177},{"d":69,"s":"RN","v":185},{"d":70,"s":"RN","v":194},{"d":71,"s":"RN","v":203},{"d":72,"s":"RN","v":212},{"d":73,"s":"RN","v":221},{"d":74,"s":"RN","v":231},{"d":75,"s":"RN","v":240},{"d":76,"s":"RN","v":250},{"d":77,"s":"RN","v":260},{"d":78,"s":"RN","v":270},{"d":79,"s":"RN","v":280},{"d":80,"s":"RN","v":290},{"d":81,"s":"RN","v":301},{"d":82,"s":"RN","v":312},{"d":83,"s":"RN","v":322},{"d":84,"s":"RN","v":333},{"d":85,"s":"RN","v":344},{"d":86,"s":"RN","v":356},{"d":87,"s":"RN","v":367},{"d":88,"s":"RN","v":379},{"d":89,"s":"RN","v":390},{"d":90,"s":"RN","v":402},{"d":91,"s":"RN","v":414},{"d":92,"s":"RN","v":426},{"d":93,"s":"RN","v":439},{"d":94,"s":"RN","v":451},{"d":96,"s":"RN","v":464},{"d":97,"s":"RN","v":476},{"d":98,"s":"RN","v":489},{"d":99,"s":"RN","v":502},{"d":100,"s":"RN","v":515},{"d":101,"s":"RN","v":529},{"d":102,"s":"RN","v":542},{"d":103,"s":"RN","v":556},{"d":104,"s":"RN","v":570},{"d":105,"s":"RN","v":584},{"d":106,"s":"RN","v":598},{"d":107,"s":"RN","v":612},{"d":108,"s":"RN","v":627},{"d":109,"s":"RN","v":641},{"d":110,"s":"RN","v":656},{"d":111,"s":"RN","v":671},{"d":112,"s":"RN","v":686},{"d":113,"s":"RN","v":701},{"d":114,"s":"RN","v":716},{"d":115,"s":"RN","v":732},{"d":116,"s":"RN","v":747},{"d":117,"s":"RN","v":763},{"d":118,"s":"RN","v":779},{"d":119,"s":"RN","v":795},{"d":120,"s":"RN","v":811},{"d":121,"s":"RN","v":828},{"d":122,"s":"RN","v":844},{"d":123,"s":"RN","v":861},{"d":124,"s":"RN","v":878},{"d":125,"s":"RN","v":895},{"d":126,"s":"RN","v":912},{"d":127,"s":"RN","v":929},{"d":128,"s":"RN","v":947},{"d":129,"s":"RN","v":964},{"d":130,"s":"RN","v":982},{"d":131,"s":"RN","v":1000},
{"d":41,"s":"PB","v":0},{"d":42,"s":"PB","v":6},{"d":43,"s":"PB","v":10},{"d":44,"s":"PB","v":15},{"d":45,"s":"PB","v":21},{"d":46,"s":"PB","v":26},{"d":47,"s":"PB","v":33},{"d":48,"s":"PB","v":39},{"d":49,"s":"PB","v":45},{"d":50,"s":"PB","v":52},{"d":51,"s":"PB","v":58},{"d":52,"s":"PB","v":65},{"d":53,"s":"PB","v":72},{"d":54,"s":"PB","v":78},{"d":55,"s":"PB","v":86},{"d":56,"s":"PB","v":92},{"d":57,"s":"PB","v":100},{"d":58,"s":"PB","v":108},{"d":59,"s":"PB","v":116},{"d":60,"s":"PB","v":124},{"d":61,"s":"PB","v":132},{"d":62,"s":"PB","v":141},{"d":63,"s":"PB","v":150},{"d":64,"s":"PB","v":157},{"d":65,"s":"PB","v":166},{"d":66,"s":"PB","v":176},{"d":67,"s":"PB","v":185},{"d":68,"s":"PB","v":195},{"d":69,"s":"PB","v":204},{"d":70,"s":"PB","v":213},{"d":71,"s":"PB","v":223},{"d":72,"s":"PB","v":233},{"d":73,"s":"PB","v":243},{"d":74,"s":"PB","v":254},{"d":75,"s":"PB","v":264},{"d":76,"s":"PB","v":275},{"d":77,"s":"PB","v":286},{"d":78,"s":"PB","v":297},{"d":79,"s":"PB","v":308},{"d":80,"s":"PB","v":319},{"d":81,"s":"PB","v":331},{"d":82,"s":"PB","v":343},{"d":83,"s":"PB","v":354},{"d":84,"s":"PB","v":366},{"d":85,"s":"PB","v":378},{"d":86,"s":"PB","v":392},{"d":87,"s":"PB","v":404},{"d":88,"s":"PB","v":417},{"d":89,"s":"PB","v":429},{"d":90,"s":"PB","v":442},{"d":91,"s":"PB","v":455},{"d":92,"s":"PB","v":469},{"d":93,"s":"PB","v":483},{"d":94,"s":"PB","v":496},{"d":96,"s":"PB","v":510},{"d":97,"s":"PB","v":524},{"d":98,"s":"PB","v":538},{"d":99,"s":"PB","v":552},{"d":100,"s":"PB","v":567},{"d":101,"s":"PB","v":582},{"d":102,"s":"PB","v":596},{"d":103,"s":"PB","v":612},{"d":104,"s":"PB","v":627},{"d":105,"s":"PB","v":642},{"d":106,"s":"PB","v":658},{"d":107,"s":"PB","v":673},{"d":108,"s":"PB","v":690},{"d":109,"s":"PB","v":705},{"d":110,"s":"PB","v":722},{"d":111,"s":"PB","v":738},{"d":112,"s":"PB","v":755},{"d":113,"s":"PB","v":771},{"d":114,"s":"PB","v":788},{"d":115,"s":"PB","v":805},{"d":116,"s":"PB","v":822},{"d":117,"s":"PB","v":839},{"d":118,"s":"PB","v":857},{"d":119,"s":"PB","v":875},{"d":120,"s":"PB","v":892},{"d":121,"s":"PB","v":911},{"d":122,"s":"PB","v":928},{"d":123,"s":"PB","v":947},{"d":124,"s":"PB","v":966},{"d":125,"s":"PB","v":985},{"d":126,"s":"PB","v":1003},{"d":127,"s":"PB","v":1022},{"d":128,"s":"PB","v":1042},{"d":129,"s":"PB","v":1060},{"d":130,"s":"PB","v":1080},{"d":131,"s":"PB","v":1100},
{"d":26,"s":"PE","v":0},{"d":27,"s":"PE","v":1},{"d":28,"s":"PE","v":2},{"d":29,"s":"PE","v":4},{"d":30,"s":"PE","v":6},{"d":31,"s":"PE","v":8},{"d":32,"s":"PE","v":10},{"d":33,"s":"PE","v":14},{"d":34,"s":"PE","v":20},{"d":35,"s":"PE","v":28},{"d":36,"s":"PE","v":34},{"d":37,"s":"PE","v":40},{"d":38,"s":"PE","v":46},{"d":39,"s":"PE","v":56},{"d":40,"s":"PE","v":65},{"d":41,"s":"PE","v":72},{"d":42,"s":"PE","v":82},{"d":43,"s":"PE","v":94},{"d":44,"s":"PE","v":108},{"d":45,"s":"PE","v":125},{"d":46,"s":"PE","v":145},{"d":47,"s":"PE","v":165},{"d":48,"s":"PE","v":185},{"d":49,"s":"PE","v":208},{"d":50,"s":"PE","v":220},{"d":51,"s":"PE","v":230},{"d":52,"s":"PE","v":260},{"d":53,"s":"PE","v":290},{"d":54,"s":"PE","v":320},{"d":55,"s":"PE","v":350},{"d":56,"s":"PE","v":380},{"d":57,"s":"PE","v":400},{"d":58,"s":"PE","v":430},{"d":59,"s":"PE","v":470},{"d":60,"s":"PE","v":505},{"d":61,"s":"PE","v":550},{"d":62,"s":"PE","v":600},{"d":63,"s":"PE","v":650},{"d":64,"s":"PE","v":680},{"d":65,"s":"PE","v":715},{"d":66,"s":"PE","v":760},{"d":67,"s":"PE","v":820},{"d":68,"s":"PE","v":880},{"d":69,"s":"PE","v":940},{"d":70,"s":"PE","v":1000},{"d":71,"s":"PE","v":1060},{"d":72,"s":"PE","v":1130},{"d":73,"s":"PE","v":1200},{"d":74,"s":"PE","v":1280},{"d":75,"s":"PE","v":1350},{"d":76,"s":"PE","v":1420},{"d":77,"s":"PE","v":1520},{"d":78,"s":"PE","v":1620},{"d":79,"s":"PE","v":1730},{"d":80,"s":"PE","v":1840},{"d":81,"s":"PE","v":1950},{"d":82,"s":"PE","v":2070},{"d":83,"s":"PE","v":2150},{"d":84,"s":"PE","v":2200},{"d":85,"s":"PE","v":2290},{"d":86,"s":"PE","v":2400},{"d":87,"s":"PE","v":2500},{"d":88,"s":"PE","v":2580},{"d":89,"s":"PE","v":2690},{"d":90,"s":"PE","v":2770},{"d":91,"s":"PE","v":2850},{"d":92,"s":"PE","v":2920},{"d":93,"s":"PE","v":2960},{"d":94,"s":"PE","v":3010},{"d":96,"s":"PE","v":3100},{"d":97,"s":"PE","v":3180},{"d":98,"s":"PE","v":3230},{"d":99,"s":"PE","v":3290},{"d":100,"s":"PE","v":3330},{"d":101,"s":"PE","v":3360},{"d":102,"s":"PE","v":3500},{"d":103,"s":"PE","v":3580},{"d":104,"s":"PE","v":3640},{"d":105,"s":"PE","v":3720},{"d":106,"s":"PE","v":3800},{"d":107,"s":"PE","v":3890},{"d":108,"s":"PE","v":3940},{"d":109,"s":"PE","v":3970},{"d":110,"s":"PE","v":4050},{"d":111,"s":"PE","v":4100},{"d":112,"s":"PE","v":4140},{"d":113,"s":"PE","v":4170},{"d":114,"s":"PE","v":4240},{"d":115,"s":"PE","v":4290},{"d":116,"s":"PE","v":4330},{"d":117,"s":"PE","v":4420},{"d":118,"s":"PE","v":4500},{"d":119,"s":"PE","v":4630},{"d":120,"s":"PE","v":4720},{"d":121,"s":"PE","v":4790},{"d":122,"s":"PE","v":4830},{"d":123,"s":"PE","v":4880},{"d":124,"s":"PE","v":4960},{"d":125,"s":"PE","v":5020},{"d":126,"s":"PE","v":5060},{"d":127,"s":"PE","v":5150},{"d":128,"s":"PE","v":5180},{"d":129,"s":"PE","v":5210},{"d":130,"s":"PE","v":5250},{"d":131,"s":"PE","v":5320},
{"d":45,"s":"AL","v":0},{"d":46,"s":"AL","v":1},{"d":47,"s":"AL","v":2},{"d":48,"s":"AL","v":4},{"d":49,"s":"AL","v":6},{"d":50,"s":"AL","v":8},{"d":51,"s":"AL","v":10},{"d":52,"s":"AL","v":13},{"d":53,"s":"AL","v":16},{"d":54,"s":"AL","v":20},{"d":55,"s":"AL","v":24},{"d":56,"s":"AL","v":28},{"d":57,"s":"AL","v":33},{"d":58,"s":"AL","v":38},{"d":59,"s":"AL","v":44},{"d":60,"s":"AL","v":50},{"d":61,"s":"AL","v":56},{"d":62,"s":"AL","v":63},{"d":63,"s":"AL","v":70},{"d":64,"s":"AL","v":78},{"d":65,"s":"AL","v":86},{"d":66,"s":"AL","v":95},{"d":67,"s":"AL","v":105},{"d":68,"s":"AL","v":115},{"d":69,"s":"AL","v":125},{"d":70,"s":"AL","v":135},{"d":71,"s":"AL","v":145},{"d":72,"s":"AL","v":155},{"d":73,"s":"AL","v":165},{"d":74,"s":"AL","v":175},{"d":75,"s":"AL","v":185},{"d":76,"s":"AL","v":195},{"d":77,"s":"AL","v":205},{"d":78,"s":"AL","v":215},{"d":79,"s":"AL","v":225},{"d":80,"s":"AL","v":235},{"d":81,"s":"AL","v":245},{"d":82,"s":"AL","v":258},{"d":83,"s":"AL","v":270},{"d":84,"s":"AL","v":283},{"d":85,"s":"AL","v":296},{"d":86,"s":"AL","v":310},{"d":87,"s":"AL","v":325},{"d":88,"s":"AL","v":340},{"d":89,"s":"AL","v":355},{"d":90,"s":"AL","v":372},{"d":91,"s":"AL","v":390},{"d":92,"s":"AL","v":405},{"d":93,"s":"AL","v":420},{"d":94,"s":"AL","v":440},{"d":96,"s":"AL","v":460},{"d":97,"s":"AL","v":490},{"d":98,"s":"AL","v":515},{"d":99,"s":"AL","v":540},{"d":100,"s":"AL","v":565},{"d":101,"s":"AL","v":590},{"d":102,"s":"AL","v":610},{"d":103,"s":"AL","v":630},{"d":104,"s":"AL","v":655},{"d":105,"s":"AL","v":680},{"d":106,"s":"AL","v":705},{"d":107,"s":"AL","v":730},{"d":108,"s":"AL","v":750},{"d":109,"s":"AL","v":770},{"d":110,"s":"AL","v":790},{"d":111,"s":"AL","v":810},{"d":112,"s":"AL","v":840},{"d":113,"s":"AL","v":870},{"d":114,"s":"AL","v":890},{"d":115,"s":"AL","v":910},{"d":116,"s":"AL","v":930},{"d":117,"s":"AL","v":950},{"d":118,"s":"AL","v":965},{"d":119,"s":"AL","v":980},{"d":120,"s":"AL","v":995},{"d":121,"s":"AL","v":1010},{"d":122,"s":"AL","v":1030},{"d":123,"s":"AL","v":1050},{"d":124,"s":"AL","v":1070},{"d":125,"s":"AL","v":1090},{"d":126,"s":"AL","v":1110},{"d":127,"s":"AL","v":1130},{"d":128,"s":"AL","v":1150},{"d":129,"s":"AL","v":1170},{"d":130,"s":"AL","v":1195},{"d":131,"s":"AL","v":1220},
{"d":41,"s":"SE","v":0},{"d":42,"s":"SE","v":5},{"d":43,"s":"SE","v":9},{"d":44,"s":"SE","v":13},{"d":45,"s":"SE","v":18},{"d":46,"s":"SE","v":23},{"d":47,"s":"SE","v":29},{"d":48,"s":"SE","v":33},{"d":49,"s":"SE","v":39},{"d":50,"s":"SE","v":45},{"d":51,"s":"SE","v":50},{"d":52,"s":"SE","v":56},{"d":53,"s":"SE","v":62},{"d":54,"s":"SE","v":67},{"d":55,"s":"SE","v":74},{"d":56,"s":"SE","v":80},{"d":57,"s":"SE","v":86},{"d":58,"s":"SE","v":93},{"d":59,"s":"SE","v":100},{"d":60,"s":"SE","v":107},{"d":61,"s":"SE","v":114},{"d":62,"s":"SE","v":122},{"d":63,"s":"SE","v":129},{"d":64,"s":"SE","v":136},{"d":65,"s":"SE","v":143},{"d":66,"s":"SE","v":152},{"d":67,"s":"SE","v":160},{"d":68,"s":"SE","v":168},{"d":69,"s":"SE","v":176},{"d":70,"s":"SE","v":184},{"d":71,"s":"SE","v":193},{"d":72,"s":"SE","v":201},{"d":73,"s":"SE","v":210},{"d":74,"s":"SE","v":219},{"d":75,"s":"SE","v":228},{"d":76,"s":"SE","v":238},{"d":77,"s":"SE","v":247},{"d":78,"s":"SE","v":257},{"d":79,"s":"SE","v":266},{"d":80,"s":"SE","v":276},{"d":81,"s":"SE","v":286},{"d":82,"s":"SE","v":296},{"d":83,"s":"SE","v":306},{"d":84,"s":"SE","v":316},{"d":85,"s":"SE","v":327},{"d":86,"s":"SE","v":338},{"d":87,"s":"SE","v":349},{"d":88,"s":"SE","v":360},{"d":89,"s":"SE","v":371},{"d":90,"s":"SE","v":382},{"d":91,"s":"SE","v":393},{"d":92,"s":"SE","v":405},{"d":93,"s":"SE","v":417},{"d":94,"s":"SE","v":428},{"d":96,"s":"SE","v":441},{"d":97,"s":"SE","v":452},{"d":98,"s":"SE","v":465},{"d":99,"s":"SE","v":477},{"d":100,"s":"SE","v":489},{"d":101,"s":"SE","v":503},{"d":102,"s":"SE","v":515},{"d":103,"s":"SE","v":528},{"d":104,"s":"SE","v":542},{"d":105,"s":"SE","v":555},{"d":106,"s":"SE","v":568},{"d":107,"s":"SE","v":581},{"d":108,"s":"SE","v":596},{"d":109,"s":"SE","v":609},{"d":110,"s":"SE","v":623},{"d":111,"s":"SE","v":637},{"d":112,"s":"SE","v":652},{"d":113,"s":"SE","v":666},{"d":114,"s":"SE","v":680},{"d":115,"s":"SE","v":695},{"d":116,"s":"SE","v":710},{"d":117,"s":"SE","v":725},{"d":118,"s":"SE","v":740},{"d":119,"s":"SE","v":755},{"d":120,"s":"SE","v":770},{"d":121,"s":"SE","v":787},{"d":122,"s":"SE","v":802},{"d":123,"s":"SE","v":818},{"d":124,"s":"SE","v":834},{"d":125,"s":"SE","v":850},{"d":126,"s":"SE","v":866},{"d":127,"s":"SE","v":883},{"d":128,"s":"SE","v":900},{"d":129,"s":"SE","v":916},{"d":130,"s":"SE","v":933},{"d":131,"s":"SE","v":950},
{"d":37,"s":"BA","v":0},{"d":38,"s":"BA","v":2},{"d":39,"s":"BA","v":4},{"d":40,"s":"BA","v":6},{"d":41,"s":"BA","v":8},{"d":42,"s":"BA","v":10},{"d":43,"s":"BA","v":12},{"d":44,"s":"BA","v":15},{"d":45,"s":"BA","v":18},{"d":46,"s":"BA","v":22},{"d":47,"s":"BA","v":26},{"d":48,"s":"BA","v":30},{"d":49,"s":"BA","v":35},{"d":50,"s":"BA","v":40},{"d":51,"s":"BA","v":45},{"d":52,"s":"BA","v":52},{"d":53,"s":"BA","v":60},{"d":54,"s":"BA","v":68},{"d":55,"s":"BA","v":76},{"d":56,"s":"BA","v":85},{"d":57,"s":"BA","v":95},{"d":58,"s":"BA","v":105},{"d":59,"s":"BA","v":115},{"d":60,"s":"BA","v":125},{"d":61,"s":"BA","v":140},{"d":62,"s":"BA","v":155},{"d":63,"s":"BA","v":170},{"d":64,"s":"BA","v":185},{"d":65,"s":"BA","v":200},{"d":66,"s":"BA","v":215},{"d":67,"s":"BA","v":230},{"d":68,"s":"BA","v":245},{"d":69,"s":"BA","v":260},{"d":70,"s":"BA","v":280},{"d":71,"s":"BA","v":300},{"d":72,"s":"BA","v":320},{"d":73,"s":"BA","v":340},{"d":74,"s":"BA","v":355},{"d":75,"s":"BA","v":370},{"d":76,"s":"BA","v":385},{"d":77,"s":"BA","v":400},{"d":78,"s":"BA","v":415},{"d":79,"s":"BA","v":430},{"d":80,"s":"BA","v":440},{"d":81,"s":"BA","v":455},{"d":82,"s":"BA","v":470},{"d":83,"s":"BA","v":490},{"d":84,"s":"BA","v":510},{"d":85,"s":"BA","v":530},{"d":86,"s":"BA","v":550},{"d":87,"s":"BA","v":570},{"d":88,"s":"BA","v":590},{"d":89,"s":"BA","v":610},{"d":90,"s":"BA","v":630},{"d":91,"s":"BA","v":650},{"d":92,"s":"BA","v":670},{"d":93,"s":"BA","v":690},{"d":94,"s":"BA","v":720},{"d":96,"s":"BA","v":760},{"d":97,"s":"BA","v":800},{"d":98,"s":"BA","v":840},{"d":99,"s":"BA","v":880},{"d":100,"s":"BA","v":920},{"d":101,"s":"BA","v":960},{"d":102,"s":"BA","v":990},{"d":103,"s":"BA","v":1020},{"d":104,"s":"BA","v":1050},{"d":105,"s":"BA","v":1080},{"d":106,"s":"BA","v":1120},{"d":107,"s":"BA","v":1160},{"d":108,"s":"BA","v":1200},{"d":109,"s":"BA","v":1240},{"d":110,"s":"BA","v":1290},{"d":111,"s":"BA","v":1320},{"d":112,"s":"BA","v":1360},{"d":113,"s":"BA","v":1400},{"d":114,"s":"BA","v":1440},{"d":115,"s":"BA","v":1480},{"d":116,"s":"BA","v":1520},{"d":117,"s":"BA","v":1570},{"d":118,"s":"BA","v":1610},{"d":119,"s":"BA","v":1660},{"d":120,"s":"BA","v":1700},{"d":121,"s":"BA","v":1750},{"d":122,"s":"BA","v":1800},{"d":123,"s":"BA","v":1850},{"d":124,"s":"BA","v":1900},{"d":125,"s":"BA","v":1950},{"d":126,"s":"BA","v":2000},{"d":127,"s":"BA","v":2050},{"d":128,"s":"BA","v":2100},{"d":129,"s":"BA","v":2160},{"d":130,"s":"BA","v":2210},{"d":131,"s":"BA","v":2270},
{"d":41,"s":"MG","v":0},{"d":42,"s":"MG","v":2},{"d":43,"s":"MG","v":4},{"d":44,"s":"MG","v":6},{"d":45,"s":"MG","v":8},{"d":46,"s":"MG","v":10},{"d":47,"s":"MG","v":12},{"d":48,"s":"MG","v":14},{"d":49,"s":"MG","v":17},{"d":50,"s":"MG","v":20},{"d":51,"s":"MG","v":23},{"d":52,"s":"MG","v":26},{"d":53,"s":"MG","v":30},{"d":54,"s":"MG","v":34},{"d":55,"s":"MG","v":38},{"d":56,"s":"MG","v":42},{"d":57,"s":"MG","v":46},{"d":58,"s":"MG","v":50},{"d":59,"s":"MG","v":55},{"d":60,"s":"MG","v":60},{"d":61,"s":"MG","v":65},{"d":62,"s":"MG","v":70},{"d":63,"s":"MG","v":76},{"d":64,"s":"MG","v":82},{"d":65,"s":"MG","v":88},{"d":66,"s":"MG","v":94},{"d":67,"s":"MG","v":100},{"d":68,"s":"MG","v":106},{"d":69,"s":"MG","v":112},{"d":70,"s":"MG","v":118},{"d":71,"s":"MG","v":125},{"d":72,"s":"MG","v":132},{"d":73,"s":"MG","v":139},{"d":74,"s":"MG","v":146},{"d":75,"s":"MG","v":153},{"d":76,"s":"MG","v":160},{"d":77,"s":"MG","v":168},{"d":78,"s":"MG","v":176},{"d":79,"s":"MG","v":184},{"d":80,"s":"MG","v":192},{"d":81,"s":"MG","v":210},{"d":82,"s":"MG","v":222},{"d":83,"s":"MG","v":232},{"d":84,"s":"MG","v":242},{"d":85,"s":"MG","v":252},{"d":86,"s":"MG","v":262},{"d":87,"s":"MG","v":272},{"d":88,"s":"MG","v":282},{"d":89,"s":"MG","v":292},{"d":90,"s":"MG","v":302},{"d":91,"s":"MG","v":312},{"d":92,"s":"MG","v":322},{"d":93,"s":"MG","v":330},{"d":94,"s":"MG","v":345},{"d":96,"s":"MG","v":360},{"d":97,"s":"MG","v":375},{"d":98,"s":"MG","v":388},{"d":99,"s":"MG","v":400},{"d":100,"s":"MG","v":410},{"d":101,"s":"MG","v":418},{"d":102,"s":"MG","v":428},{"d":103,"s":"MG","v":440},{"d":104,"s":"MG","v":455},{"d":105,"s":"MG","v":470},{"d":106,"s":"MG","v":488},{"d":107,"s":"MG","v":505},{"d":108,"s":"MG","v":525},{"d":109,"s":"MG","v":545},{"d":110,"s":"MG","v":570},{"d":111,"s":"MG","v":595},{"d":112,"s":"MG","v":615},{"d":113,"s":"MG","v":635},{"d":114,"s":"MG","v":680},{"d":115,"s":"MG","v":720},{"d":116,"s":"MG","v":765},{"d":117,"s":"MG","v":805},{"d":118,"s":"MG","v":840},{"d":119,"s":"MG","v":880},{"d":120,"s":"MG","v":920},{"d":121,"s":"MG","v":950},{"d":122,"s":"MG","v":990},{"d":123,"s":"MG","v":1040},{"d":124,"s":"MG","v":1090},{"d":125,"s":"MG","v":1140},{"d":126,"s":"MG","v":1170},{"d":127,"s":"MG","v":1200},{"d":128,"s":"MG","v":1240},{"d":129,"s":"MG","v":1280},{"d":130,"s":"MG","v":1320},{"d":131,"s":"MG","v":1355},
{"d":40,"s":"ES","v":0},{"d":41,"s":"ES","v":1},{"d":42,"s":"ES","v":2},{"d":43,"s":"ES","v":3},{"d":44,"s":"ES","v":4},{"d":45,"s":"ES","v":6},{"d":46,"s":"ES","v":8},{"d":47,"s":"ES","v":10},{"d":48,"s":"ES","v":14},{"d":49,"s":"ES","v":18},{"d":50,"s":"ES","v":22},{"d":51,"s":"ES","v":27},{"d":52,"s":"ES","v":32},{"d":53,"s":"ES","v":38},{"d":54,"s":"ES","v":45},{"d":55,"s":"ES","v":52},{"d":56,"s":"ES","v":60},{"d":57,"s":"ES","v":68},{"d":58,"s":"ES","v":76},{"d":59,"s":"ES","v":85},{"d":60,"s":"ES","v":95},{"d":61,"s":"ES","v":105},{"d":62,"s":"ES","v":115},{"d":63,"s":"ES","v":125},{"d":64,"s":"ES","v":135},{"d":65,"s":"ES","v":145},{"d":66,"s":"ES","v":160},{"d":67,"s":"ES","v":175},{"d":68,"s":"ES","v":190},{"d":69,"s":"ES","v":205},{"d":70,"s":"ES","v":220},{"d":71,"s":"ES","v":235},{"d":72,"s":"ES","v":250},{"d":73,"s":"ES","v":265},{"d":74,"s":"ES","v":280},{"d":75,"s":"ES","v":295},{"d":76,"s":"ES","v":310},{"d":77,"s":"ES","v":320},{"d":78,"s":"ES","v":330},{"d":79,"s":"ES","v":345},{"d":80,"s":"ES","v":360},{"d":81,"s":"ES","v":370},{"d":82,"s":"ES","v":390},{"d":83,"s":"ES","v":410},{"d":84,"s":"ES","v":430},{"d":85,"s":"ES","v":450},{"d":86,"s":"ES","v":470},{"d":87,"s":"ES","v":490},{"d":88,"s":"ES","v":505},{"d":89,"s":"ES","v":520},{"d":90,"s":"ES","v":550},{"d":91,"s":"ES","v":590},{"d":92,"s":"ES","v":620},{"d":93,"s":"ES","v":660},{"d":94,"s":"ES","v":700},{"d":96,"s":"ES","v":740},{"d":97,"s":"ES","v":790},{"d":98,"s":"ES","v":830},{"d":99,"s":"ES","v":870},{"d":100,"s":"ES","v":900},{"d":101,"s":"ES","v":930},{"d":102,"s":"ES","v":960},{"d":103,"s":"ES","v":990},{"d":104,"s":"ES","v":1010},{"d":105,"s":"ES","v":1030},{"d":106,"s":"ES","v":1050},{"d":107,"s":"ES","v":1070},{"d":108,"s":"ES","v":1110},{"d":109,"s":"ES","v":1160},{"d":110,"s":"ES","v":1200},{"d":111,"s":"ES","v":1240},{"d":112,"s":"ES","v":1280},{"d":113,"s":"ES","v":1330},{"d":114,"s":"ES","v":1370},{"d":115,"s":"ES","v":1400},{"d":116,"s":"ES","v":1430},{"d":117,"s":"ES","v":1450},{"d":118,"s":"ES","v":1480},{"d":119,"s":"ES","v":1510},{"d":120,"s":"ES","v":1550},{"d":121,"s":"ES","v":1580},{"d":122,"s":"ES","v":1600},{"d":123,"s":"ES","v":1650},{"d":124,"s":"ES","v":1700},{"d":125,"s":"ES","v":1740},{"d":126,"s":"ES","v":1770},{"d":127,"s":"ES","v":1800},{"d":128,"s":"ES","v":1830},{"d":129,"s":"ES","v":1850},{"d":130,"s":"ES","v":1880},{"d":131,"s":"ES","v":1915},
{"d":24,"s":"RJ","v":0},{"d":25,"s":"RJ","v":1},{"d":26,"s":"RJ","v":3},{"d":27,"s":"RJ","v":5},{"d":28,"s":"RJ","v":9},{"d":29,"s":"RJ","v":13},{"d":30,"s":"RJ","v":18},{"d":31,"s":"RJ","v":28},{"d":32,"s":"RJ","v":40},{"d":33,"s":"RJ","v":47},{"d":34,"s":"RJ","v":58},{"d":35,"s":"RJ","v":70},{"d":36,"s":"RJ","v":89},{"d":37,"s":"RJ","v":110},{"d":38,"s":"RJ","v":130},{"d":39,"s":"RJ","v":155},{"d":40,"s":"RJ","v":170},{"d":41,"s":"RJ","v":190},{"d":42,"s":"RJ","v":200},{"d":43,"s":"RJ","v":210},{"d":44,"s":"RJ","v":230},{"d":45,"s":"RJ","v":270},{"d":46,"s":"RJ","v":310},{"d":47,"s":"RJ","v":360},{"d":48,"s":"RJ","v":390},{"d":49,"s":"RJ","v":416},{"d":50,"s":"RJ","v":430},{"d":51,"s":"RJ","v":445},{"d":52,"s":"RJ","v":490},{"d":53,"s":"RJ","v":540},{"d":54,"s":"RJ","v":580},{"d":55,"s":"RJ","v":620},{"d":56,"s":"RJ","v":650},{"d":57,"s":"RJ","v":670},{"d":58,"s":"RJ","v":700},{"d":59,"s":"RJ","v":760},{"d":60,"s":"RJ","v":830},{"d":61,"s":"RJ","v":900},{"d":62,"s":"RJ","v":960},{"d":63,"s":"RJ","v":1020},{"d":64,"s":"RJ","v":1080},{"d":65,"s":"RJ","v":1120},{"d":66,"s":"RJ","v":1180},{"d":67,"s":"RJ","v":1230},{"d":68,"s":"RJ","v":1400},{"d":69,"s":"RJ","v":1520},{"d":70,"s":"RJ","v":1660},{"d":71,"s":"RJ","v":1720},{"d":72,"s":"RJ","v":1780},{"d":73,"s":"RJ","v":1960},{"d":74,"s":"RJ","v":2150},{"d":75,"s":"RJ","v":2350},{"d":76,"s":"RJ","v":2560},{"d":77,"s":"RJ","v":2710},{"d":78,"s":"RJ","v":2800},{"d":79,"s":"RJ","v":2870},{"d":80,"s":"RJ","v":3130},{"d":81,"s":"RJ","v":3300},{"d":82,"s":"RJ","v":3430},{"d":83,"s":"RJ","v":3700},{"d":84,"s":"RJ","v":3950},{"d":85,"s":"RJ","v":4070},{"d":86,"s":"RJ","v":4150},{"d":87,"s":"RJ","v":4460},{"d":88,"s":"RJ","v":4700},{"d":89,"s":"RJ","v":4900},{"d":90,"s":"RJ","v":5100},{"d":91,"s":"RJ","v":5280},{"d":92,"s":"RJ","v":5400},{"d":93,"s":"RJ","v":5470},{"d":94,"s":"RJ","v":5720},{"d":96,"s":"RJ","v":6050},{"d":97,"s":"RJ","v":6350},{"d":98,"s":"RJ","v":6500},{"d":99,"s":"RJ","v":6670},{"d":100,"s":"RJ","v":6800},{"d":101,"s":"RJ","v":6880},{"d":102,"s":"RJ","v":6980},{"d":103,"s":"RJ","v":7170},{"d":104,"s":"RJ","v":7370},{"d":105,"s":"RJ","v":7520},{"d":106,"s":"RJ","v":7680},{"d":107,"s":"RJ","v":7740},{"d":108,"s":"RJ","v":7800},{"d":109,"s":"RJ","v":8020},{"d":110,"s":"RJ","v":8250},{"d":111,"s":"RJ","v":8480},{"d":112,"s":"RJ","v":8680},{"d":113,"s":"RJ","v":8860},{"d":114,"s":"RJ","v":8930},{"d":115,"s":"RJ","v":8980},{"d":116,"s":"RJ","v":9200},{"d":117,"s":"RJ","v":9370},{"d":118,"s":"RJ","v":9530},{"d":119,"s":"RJ","v":9670},{"d":120,"s":"RJ","v":9810},{"d":121,"s":"RJ","v":9840},{"d":122,"s":"RJ","v":9870},{"d":123,"s":"RJ","v":10140},{"d":124,"s":"RJ","v":10260},{"d":125,"s":"RJ","v":10370},{"d":126,"s":"RJ","v":10500},{"d":127,"s":"RJ","v":10630},{"d":128,"s":"RJ","v":10690},{"d":129,"s":"RJ","v":10720},{"d":130,"s":"RJ","v":10900},{"d":131,"s":"RJ","v":10990},
{"d":20,"s":"SP","v":0},{"d":21,"s":"SP","v":1},{"d":22,"s":"SP","v":2},{"d":23,"s":"SP","v":4},{"d":24,"s":"SP","v":9},{"d":25,"s":"SP","v":15},{"d":26,"s":"SP","v":22},{"d":27,"s":"SP","v":30},{"d":28,"s":"SP","v":48},{"d":29,"s":"SP","v":68},{"d":30,"s":"SP","v":84},{"d":31,"s":"SP","v":110},{"d":32,"s":"SP","v":150},{"d":33,"s":"SP","v":190},{"d":34,"s":"SP","v":240},{"d":35,"s":"SP","v":280},{"d":36,"s":"SP","v":320},{"d":37,"s":"SP","v":360},{"d":38,"s":"SP","v":420},{"d":39,"s":"SP","v":470},{"d":40,"s":"SP","v":520},{"d":41,"s":"SP","v":550},{"d":42,"s":"SP","v":570},{"d":43,"s":"SP","v":600},{"d":44,"s":"SP","v":630},{"d":45,"s":"SP","v":700},{"d":46,"s":"SP","v":790},{"d":47,"s":"SP","v":860},{"d":48,"s":"SP","v":930},{"d":49,"s":"SP","v":1000},{"d":50,"s":"SP","v":1020},{"d":51,"s":"SP","v":1040},{"d":52,"s":"SP","v":1090},{"d":53,"s":"SP","v":1140},{"d":54,"s":"SP","v":1400},{"d":55,"s":"SP","v":1550},{"d":56,"s":"SP","v":1680},{"d":57,"s":"SP","v":1720},{"d":58,"s":"SP","v":1850},{"d":59,"s":"SP","v":2050},{"d":60,"s":"SP","v":2250},{"d":61,"s":"SP","v":2380},{"d":62,"s":"SP","v":2510},{"d":63,"s":"SP","v":2600},{"d":64,"s":"SP","v":2640},{"d":65,"s":"SP","v":2680},{"d":66,"s":"SP","v":2850},{"d":67,"s":"SP","v":3050},{"d":68,"s":"SP","v":3230},{"d":69,"s":"SP","v":3420},{"d":70,"s":"SP","v":3610},{"d":71,"s":"SP","v":3710},{"d":72,"s":"SP","v":3760},{"d":73,"s":"SP","v":3960},{"d":74,"s":"SP","v":4160},{"d":75,"s":"SP","v":4370},{"d":76,"s":"SP","v":4550},{"d":77,"s":"SP","v":4700},{"d":78,"s":"SP","v":4790},{"d":79,"s":"SP","v":4830},{"d":80,"s":"SP","v":5100},{"d":81,"s":"SP","v":5350},{"d":82,"s":"SP","v":5550},{"d":83,"s":"SP","v":5800},{"d":84,"s":"SP","v":6040},{"d":85,"s":"SP","v":6180},{"d":86,"s":"SP","v":6240},{"d":87,"s":"SP","v":6450},{"d":88,"s":"SP","v":6700},{"d":89,"s":"SP","v":6950},{"d":90,"s":"SP","v":7250},{"d":91,"s":"SP","v":7500},{"d":92,"s":"SP","v":7620},{"d":93,"s":"SP","v":7660},{"d":94,"s":"SP","v":8000},{"d":96,"s":"SP","v":8300},{"d":97,"s":"SP","v":8560},{"d":98,"s":"SP","v":8820},{"d":99,"s":"SP","v":9050},{"d":100,"s":"SP","v":9160},{"d":101,"s":"SP","v":9200},{"d":102,"s":"SP","v":9650},{"d":103,"s":"SP","v":9850},{"d":104,"s":"SP","v":10150},{"d":105,"s":"SP","v":10380},{"d":106,"s":"SP","v":10600},{"d":107,"s":"SP","v":10750},{"d":108,"s":"SP","v":10800},{"d":109,"s":"SP","v":11200},{"d":110,"s":"SP","v":11500},{"d":111,"s":"SP","v":11850},{"d":112,"s":"SP","v":12230},{"d":113,"s":"SP","v":12490},{"d":114,"s":"SP","v":12600},{"d":115,"s":"SP","v":12640},{"d":116,"s":"SP","v":13060},{"d":117,"s":"SP","v":13350},{"d":118,"s":"SP","v":13760},{"d":119,"s":"SP","v":14000},{"d":120,"s":"SP","v":14260},{"d":121,"s":"SP","v":14350},{"d":122,"s":"SP","v":14400},{"d":123,"s":"SP","v":14760},{"d":124,"s":"SP","v":15030},{"d":125,"s":"SP","v":15350},{"d":126,"s":"SP","v":15650},{"d":127,"s":"SP","v":15900},{"d":128,"s":"SP","v":16100},{"d":129,"s":"SP","v":16400},{"d":130,"s":"SP","v":16600},{"d":131,"s":"SP","v":16788},
{"d":41,"s":"PR","v":0},{"d":42,"s":"PR","v":5},{"d":43,"s":"PR","v":8},{"d":44,"s":"PR","v":13},{"d":45,"s":"PR","v":17},{"d":46,"s":"PR","v":22},{"d":47,"s":"PR","v":27},{"d":48,"s":"PR","v":32},{"d":49,"s":"PR","v":37},{"d":50,"s":"PR","v":42},{"d":51,"s":"PR","v":48},{"d":52,"s":"PR","v":53},{"d":53,"s":"PR","v":59},{"d":54,"s":"PR","v":64},{"d":55,"s":"PR","v":70},{"d":56,"s":"PR","v":76},{"d":57,"s":"PR","v":82},{"d":58,"s":"PR","v":88},{"d":59,"s":"PR","v":95},{"d":60,"s":"PR","v":102},{"d":61,"s":"PR","v":108},{"d":62,"s":"PR","v":115},{"d":63,"s":"PR","v":122},{"d":64,"s":"PR","v":129},{"d":65,"s":"PR","v":136},{"d":66,"s":"PR","v":144},{"d":67,"s":"PR","v":151},{"d":68,"s":"PR","v":159},{"d":69,"s":"PR","v":167},{"d":70,"s":"PR","v":175},{"d":71,"s":"PR","v":183},{"d":72,"s":"PR","v":191},{"d":73,"s":"PR","v":199},{"d":74,"s":"PR","v":208},{"d":75,"s":"PR","v":216},{"d":76,"s":"PR","v":225},{"d":77,"s":"PR","v":234},{"d":78,"s":"PR","v":243},{"d":79,"s":"PR","v":252},{"d":80,"s":"PR","v":261},{"d":81,"s":"PR","v":271},{"d":82,"s":"PR","v":281},{"d":83,"s":"PR","v":290},{"d":84,"s":"PR","v":300},{"d":85,"s":"PR","v":310},{"d":86,"s":"PR","v":320},{"d":87,"s":"PR","v":330},{"d":88,"s":"PR","v":341},{"d":89,"s":"PR","v":351},{"d":90,"s":"PR","v":362},{"d":91,"s":"PR","v":373},{"d":92,"s":"PR","v":383},{"d":93,"s":"PR","v":395},{"d":94,"s":"PR","v":406},{"d":96,"s":"PR","v":418},{"d":97,"s":"PR","v":428},{"d":98,"s":"PR","v":440},{"d":99,"s":"PR","v":452},{"d":100,"s":"PR","v":464},{"d":101,"s":"PR","v":476},{"d":102,"s":"PR","v":488},{"d":103,"s":"PR","v":500},{"d":104,"s":"PR","v":513},{"d":105,"s":"PR","v":526},{"d":106,"s":"PR","v":538},{"d":107,"s":"PR","v":551},{"d":108,"s":"PR","v":564},{"d":109,"s":"PR","v":577},{"d":110,"s":"PR","v":590},{"d":111,"s":"PR","v":604},{"d":112,"s":"PR","v":617},{"d":113,"s":"PR","v":631},{"d":114,"s":"PR","v":644},{"d":115,"s":"PR","v":659},{"d":116,"s":"PR","v":672},{"d":117,"s":"PR","v":687},{"d":118,"s":"PR","v":701},{"d":119,"s":"PR","v":716},{"d":120,"s":"PR","v":730},{"d":121,"s":"PR","v":745},{"d":122,"s":"PR","v":760},{"d":123,"s":"PR","v":775},{"d":124,"s":"PR","v":790},{"d":125,"s":"PR","v":806},{"d":126,"s":"PR","v":821},{"d":127,"s":"PR","v":836},{"d":128,"s":"PR","v":852},{"d":129,"s":"PR","v":868},{"d":130,"s":"PR","v":884},{"d":131,"s":"PR","v":900},
{"d":41,"s":"SC","v":0},{"d":42,"s":"SC","v":2},{"d":43,"s":"SC","v":4},{"d":44,"s":"SC","v":6},{"d":45,"s":"SC","v":8},{"d":46,"s":"SC","v":10},{"d":47,"s":"SC","v":12},{"d":48,"s":"SC","v":14},{"d":49,"s":"SC","v":16},{"d":50,"s":"SC","v":19},{"d":51,"s":"SC","v":21},{"d":52,"s":"SC","v":24},{"d":53,"s":"SC","v":26},{"d":54,"s":"SC","v":28},{"d":55,"s":"SC","v":31},{"d":56,"s":"SC","v":34},{"d":57,"s":"SC","v":36},{"d":58,"s":"SC","v":39},{"d":59,"s":"SC","v":42},{"d":60,"s":"SC","v":45},{"d":61,"s":"SC","v":48},{"d":62,"s":"SC","v":51},{"d":63,"s":"SC","v":54},{"d":64,"s":"SC","v":57},{"d":65,"s":"SC","v":60},{"d":66,"s":"SC","v":64},{"d":67,"s":"SC","v":67},{"d":68,"s":"SC","v":71},{"d":69,"s":"SC","v":74},{"d":70,"s":"SC","v":78},{"d":71,"s":"SC","v":81},{"d":72,"s":"SC","v":85},{"d":73,"s":"SC","v":88},{"d":74,"s":"SC","v":92},{"d":75,"s":"SC","v":96},{"d":76,"s":"SC","v":100},{"d":77,"s":"SC","v":104},{"d":78,"s":"SC","v":108},{"d":79,"s":"SC","v":112},{"d":80,"s":"SC","v":116},{"d":81,"s":"SC","v":120},{"d":82,"s":"SC","v":125},{"d":83,"s":"SC","v":129},{"d":84,"s":"SC","v":133},{"d":85,"s":"SC","v":138},{"d":86,"s":"SC","v":142},{"d":87,"s":"SC","v":147},{"d":88,"s":"SC","v":152},{"d":89,"s":"SC","v":156},{"d":90,"s":"SC","v":161},{"d":91,"s":"SC","v":166},{"d":92,"s":"SC","v":170},{"d":93,"s":"SC","v":176},{"d":94,"s":"SC","v":180},{"d":96,"s":"SC","v":186},{"d":97,"s":"SC","v":190},{"d":98,"s":"SC","v":196},{"d":99,"s":"SC","v":201},{"d":100,"s":"SC","v":206},{"d":101,"s":"SC","v":212},{"d":102,"s":"SC","v":217},{"d":103,"s":"SC","v":222},{"d":104,"s":"SC","v":228},{"d":105,"s":"SC","v":234},{"d":106,"s":"SC","v":239},{"d":107,"s":"SC","v":245},{"d":108,"s":"SC","v":251},{"d":109,"s":"SC","v":256},{"d":110,"s":"SC","v":262},{"d":111,"s":"SC","v":268},{"d":112,"s":"SC","v":274},{"d":113,"s":"SC","v":280},{"d":114,"s":"SC","v":286},{"d":115,"s":"SC","v":293},{"d":116,"s":"SC","v":299},{"d":117,"s":"SC","v":305},{"d":118,"s":"SC","v":312},{"d":119,"s":"SC","v":318},{"d":120,"s":"SC","v":324},{"d":121,"s":"SC","v":331},{"d":122,"s":"SC","v":338},{"d":123,"s":"SC","v":344},{"d":124,"s":"SC","v":351},{"d":125,"s":"SC","v":358},{"d":126,"s":"SC","v":365},{"d":127,"s":"SC","v":372},{"d":128,"s":"SC","v":379},{"d":129,"s":"SC","v":386},{"d":130,"s":"SC","v":393},{"d":131,"s":"SC","v":400},
{"d":41,"s":"RS","v":0},{"d":42,"s":"RS","v":4},{"d":43,"s":"RS","v":7},{"d":44,"s":"RS","v":11},{"d":45,"s":"RS","v":15},{"d":46,"s":"RS","v":19},{"d":47,"s":"RS","v":24},{"d":48,"s":"RS","v":28},{"d":49,"s":"RS","v":33},{"d":50,"s":"RS","v":38},{"d":51,"s":"RS","v":42},{"d":52,"s":"RS","v":47},{"d":53,"s":"RS","v":52},{"d":54,"s":"RS","v":57},{"d":55,"s":"RS","v":62},{"d":56,"s":"RS","v":67},{"d":57,"s":"RS","v":73},{"d":58,"s":"RS","v":78},{"d":59,"s":"RS","v":84},{"d":60,"s":"RS","v":90},{"d":61,"s":"RS","v":96},{"d":62,"s":"RS","v":102},{"d":63,"s":"RS","v":109},{"d":64,"s":"RS","v":114},{"d":65,"s":"RS","v":121},{"d":66,"s":"RS","v":128},{"d":67,"s":"RS","v":134},{"d":68,"s":"RS","v":142},{"d":69,"s":"RS","v":148},{"d":70,"s":"RS","v":155},{"d":71,"s":"RS","v":162},{"d":72,"s":"RS","v":170},{"d":73,"s":"RS","v":177},{"d":74,"s":"RS","v":185},{"d":75,"s":"RS","v":192},{"d":76,"s":"RS","v":200},{"d":77,"s":"RS","v":208},{"d":78,"s":"RS","v":216},{"d":79,"s":"RS","v":224},{"d":80,"s":"RS","v":232},{"d":81,"s":"RS","v":241},{"d":82,"s":"RS","v":250},{"d":83,"s":"RS","v":258},{"d":84,"s":"RS","v":266},{"d":85,"s":"RS","v":275},{"d":86,"s":"RS","v":285},{"d":87,"s":"RS","v":294},{"d":88,"s":"RS","v":303},{"d":89,"s":"RS","v":312},{"d":90,"s":"RS","v":322},{"d":91,"s":"RS","v":331},{"d":92,"s":"RS","v":341},{"d":93,"s":"RS","v":351},{"d":94,"s":"RS","v":361},{"d":96,"s":"RS","v":371},{"d":97,"s":"RS","v":381},{"d":98,"s":"RS","v":391},{"d":99,"s":"RS","v":402},{"d":100,"s":"RS","v":412},{"d":101,"s":"RS","v":423},{"d":102,"s":"RS","v":434},{"d":103,"s":"RS","v":445},{"d":104,"s":"RS","v":456},{"d":105,"s":"RS","v":467},{"d":106,"s":"RS","v":478},{"d":107,"s":"RS","v":490},{"d":108,"s":"RS","v":502},{"d":109,"s":"RS","v":513},{"d":110,"s":"RS","v":525},{"d":111,"s":"RS","v":537},{"d":112,"s":"RS","v":549},{"d":113,"s":"RS","v":561},{"d":114,"s":"RS","v":573},{"d":115,"s":"RS","v":586},{"d":116,"s":"RS","v":598},{"d":117,"s":"RS","v":610},{"d":118,"s":"RS","v":623},{"d":119,"s":"RS","v":636},{"d":120,"s":"RS","v":649},{"d":121,"s":"RS","v":662},{"d":122,"s":"RS","v":675},{"d":123,"s":"RS","v":689},{"d":124,"s":"RS","v":702},{"d":125,"s":"RS","v":716},{"d":126,"s":"RS","v":730},{"d":127,"s":"RS","v":743},{"d":128,"s":"RS","v":758},{"d":129,"s":"RS","v":771},{"d":130,"s":"RS","v":786},{"d":131,"s":"RS","v":800},
{"d":41,"s":"MS","v":0},{"d":42,"s":"MS","v":1},{"d":43,"s":"MS","v":1},{"d":44,"s":"MS","v":2},{"d":45,"s":"MS","v":3},{"d":46,"s":"MS","v":4},{"d":47,"s":"MS","v":5},{"d":48,"s":"MS","v":5},{"d":49,"s":"MS","v":6},{"d":50,"s":"MS","v":7},{"d":51,"s":"MS","v":8},{"d":52,"s":"MS","v":9},{"d":53,"s":"MS","v":10},{"d":54,"s":"MS","v":11},{"d":55,"s":"MS","v":12},{"d":56,"s":"MS","v":13},{"d":57,"s":"MS","v":14},{"d":58,"s":"MS","v":15},{"d":59,"s":"MS","v":16},{"d":60,"s":"MS","v":17},{"d":61,"s":"MS","v":18},{"d":62,"s":"MS","v":19},{"d":63,"s":"MS","v":20},{"d":64,"s":"MS","v":21},{"d":65,"s":"MS","v":23},{"d":66,"s":"MS","v":24},{"d":67,"s":"MS","v":25},{"d":68,"s":"MS","v":27},{"d":69,"s":"MS","v":28},{"d":70,"s":"MS","v":29},{"d":71,"s":"MS","v":30},{"d":72,"s":"MS","v":32},{"d":73,"s":"MS","v":33},{"d":74,"s":"MS","v":35},{"d":75,"s":"MS","v":36},{"d":76,"s":"MS","v":38},{"d":77,"s":"MS","v":39},{"d":78,"s":"MS","v":41},{"d":79,"s":"MS","v":42},{"d":80,"s":"MS","v":44},{"d":81,"s":"MS","v":45},{"d":82,"s":"MS","v":47},{"d":83,"s":"MS","v":48},{"d":84,"s":"MS","v":50},{"d":85,"s":"MS","v":52},{"d":86,"s":"MS","v":53},{"d":87,"s":"MS","v":55},{"d":88,"s":"MS","v":57},{"d":89,"s":"MS","v":59},{"d":90,"s":"MS","v":60},{"d":91,"s":"MS","v":62},{"d":92,"s":"MS","v":64},{"d":93,"s":"MS","v":66},{"d":94,"s":"MS","v":68},{"d":96,"s":"MS","v":70},{"d":97,"s":"MS","v":71},{"d":98,"s":"MS","v":73},{"d":99,"s":"MS","v":75},{"d":100,"s":"MS","v":77},{"d":101,"s":"MS","v":79},{"d":102,"s":"MS","v":81},{"d":103,"s":"MS","v":83},{"d":104,"s":"MS","v":86},{"d":105,"s":"MS","v":88},{"d":106,"s":"MS","v":90},{"d":107,"s":"MS","v":92},{"d":108,"s":"MS","v":94},{"d":109,"s":"MS","v":96},{"d":110,"s":"MS","v":98},{"d":111,"s":"MS","v":101},{"d":112,"s":"MS","v":103},{"d":113,"s":"MS","v":105},{"d":114,"s":"MS","v":107},{"d":115,"s":"MS","v":110},{"d":116,"s":"MS","v":112},{"d":117,"s":"MS","v":114},{"d":118,"s":"MS","v":117},{"d":119,"s":"MS","v":119},{"d":120,"s":"MS","v":122},{"d":121,"s":"MS","v":124},{"d":122,"s":"MS","v":127},{"d":123,"s":"MS","v":129},{"d":124,"s":"MS","v":132},{"d":125,"s":"MS","v":134},{"d":126,"s":"MS","v":137},{"d":127,"s":"MS","v":139},{"d":128,"s":"MS","v":142},{"d":129,"s":"MS","v":145},{"d":130,"s":"MS","v":147},{"d":131,"s":"MS","v":150},
{"d":41,"s":"MT","v":0},{"d":42,"s":"MT","v":5},{"d":43,"s":"MT","v":9},{"d":44,"s":"MT","v":13},{"d":45,"s":"MT","v":18},{"d":46,"s":"MT","v":23},{"d":47,"s":"MT","v":29},{"d":48,"s":"MT","v":33},{"d":49,"s":"MT","v":39},{"d":50,"s":"MT","v":45},{"d":51,"s":"MT","v":50},{"d":52,"s":"MT","v":56},{"d":53,"s":"MT","v":62},{"d":54,"s":"MT","v":67},{"d":55,"s":"MT","v":74},{"d":56,"s":"MT","v":80},{"d":57,"s":"MT","v":86},{"d":58,"s":"MT","v":93},{"d":59,"s":"MT","v":100},{"d":60,"s":"MT","v":107},{"d":61,"s":"MT","v":114},{"d":62,"s":"MT","v":122},{"d":63,"s":"MT","v":129},{"d":64,"s":"MT","v":136},{"d":65,"s":"MT","v":143},{"d":66,"s":"MT","v":152},{"d":67,"s":"MT","v":160},{"d":68,"s":"MT","v":168},{"d":69,"s":"MT","v":176},{"d":70,"s":"MT","v":184},{"d":71,"s":"MT","v":193},{"d":72,"s":"MT","v":201},{"d":73,"s":"MT","v":210},{"d":74,"s":"MT","v":219},{"d":75,"s":"MT","v":228},{"d":76,"s":"MT","v":238},{"d":77,"s":"MT","v":247},{"d":78,"s":"MT","v":257},{"d":79,"s":"MT","v":266},{"d":80,"s":"MT","v":276},{"d":81,"s":"MT","v":286},{"d":82,"s":"MT","v":296},{"d":83,"s":"MT","v":306},{"d":84,"s":"MT","v":316},{"d":85,"s":"MT","v":327},{"d":86,"s":"MT","v":338},{"d":87,"s":"MT","v":349},{"d":88,"s":"MT","v":360},{"d":89,"s":"MT","v":371},{"d":90,"s":"MT","v":382},{"d":91,"s":"MT","v":393},{"d":92,"s":"MT","v":405},{"d":93,"s":"MT","v":417},{"d":94,"s":"MT","v":428},{"d":96,"s":"MT","v":441},{"d":97,"s":"MT","v":452},{"d":98,"s":"MT","v":465},{"d":99,"s":"MT","v":477},{"d":100,"s":"MT","v":489},{"d":101,"s":"MT","v":503},{"d":102,"s":"MT","v":515},{"d":103,"s":"MT","v":528},{"d":104,"s":"MT","v":542},{"d":105,"s":"MT","v":555},{"d":106,"s":"MT","v":568},{"d":107,"s":"MT","v":581},{"d":108,"s":"MT","v":596},{"d":109,"s":"MT","v":609},{"d":110,"s":"MT","v":623},{"d":111,"s":"MT","v":637},{"d":112,"s":"MT","v":652},{"d":113,"s":"MT","v":666},{"d":114,"s":"MT","v":680},{"d":115,"s":"MT","v":695},{"d":116,"s":"MT","v":710},{"d":117,"s":"MT","v":725},{"d":118,"s":"MT","v":740},{"d":119,"s":"MT","v":755},{"d":120,"s":"MT","v":770},{"d":121,"s":"MT","v":787},{"d":122,"s":"MT","v":802},{"d":123,"s":"MT","v":818},{"d":124,"s":"MT","v":834},{"d":125,"s":"MT","v":850},{"d":126,"s":"MT","v":866},{"d":127,"s":"MT","v":883},{"d":128,"s":"MT","v":900},{"d":129,"s":"MT","v":916},{"d":130,"s":"MT","v":933},{"d":131,"s":"MT","v":950},
{"d":41,"s":"GO","v":0},{"d":42,"s":"GO","v":3},{"d":43,"s":"GO","v":5},{"d":44,"s":"GO","v":7},{"d":45,"s":"GO","v":10},{"d":46,"s":"GO","v":12},{"d":47,"s":"GO","v":15},{"d":48,"s":"GO","v":18},{"d":49,"s":"GO","v":21},{"d":50,"s":"GO","v":24},{"d":51,"s":"GO","v":27},{"d":52,"s":"GO","v":30},{"d":53,"s":"GO","v":33},{"d":54,"s":"GO","v":36},{"d":55,"s":"GO","v":39},{"d":56,"s":"GO","v":42},{"d":57,"s":"GO","v":46},{"d":58,"s":"GO","v":49},{"d":59,"s":"GO","v":53},{"d":60,"s":"GO","v":57},{"d":61,"s":"GO","v":60},{"d":62,"s":"GO","v":64},{"d":63,"s":"GO","v":68},{"d":64,"s":"GO","v":72},{"d":65,"s":"GO","v":76},{"d":66,"s":"GO","v":80},{"d":67,"s":"GO","v":84},{"d":68,"s":"GO","v":89},{"d":69,"s":"GO","v":93},{"d":70,"s":"GO","v":97},{"d":71,"s":"GO","v":102},{"d":72,"s":"GO","v":106},{"d":73,"s":"GO","v":111},{"d":74,"s":"GO","v":116},{"d":75,"s":"GO","v":120},{"d":76,"s":"GO","v":125},{"d":77,"s":"GO","v":130},{"d":78,"s":"GO","v":135},{"d":79,"s":"GO","v":140},{"d":80,"s":"GO","v":145},{"d":81,"s":"GO","v":151},{"d":82,"s":"GO","v":156},{"d":83,"s":"GO","v":161},{"d":84,"s":"GO","v":167},{"d":85,"s":"GO","v":172},{"d":86,"s":"GO","v":178},{"d":87,"s":"GO","v":184},{"d":88,"s":"GO","v":190},{"d":89,"s":"GO","v":195},{"d":90,"s":"GO","v":201},{"d":91,"s":"GO","v":207},{"d":92,"s":"GO","v":213},{"d":93,"s":"GO","v":220},{"d":94,"s":"GO","v":226},{"d":96,"s":"GO","v":232},{"d":97,"s":"GO","v":238},{"d":98,"s":"GO","v":245},{"d":99,"s":"GO","v":251},{"d":100,"s":"GO","v":258},{"d":101,"s":"GO","v":265},{"d":102,"s":"GO","v":271},{"d":103,"s":"GO","v":278},{"d":104,"s":"GO","v":285},{"d":105,"s":"GO","v":292},{"d":106,"s":"GO","v":299},{"d":107,"s":"GO","v":306},{"d":108,"s":"GO","v":314},{"d":109,"s":"GO","v":321},{"d":110,"s":"GO","v":328},{"d":111,"s":"GO","v":336},{"d":112,"s":"GO","v":343},{"d":113,"s":"GO","v":351},{"d":114,"s":"GO","v":358},{"d":115,"s":"GO","v":366},{"d":116,"s":"GO","v":374},{"d":117,"s":"GO","v":382},{"d":118,"s":"GO","v":390},{"d":119,"s":"GO","v":398},{"d":120,"s":"GO","v":406},{"d":121,"s":"GO","v":414},{"d":122,"s":"GO","v":422},{"d":123,"s":"GO","v":431},{"d":124,"s":"GO","v":439},{"d":125,"s":"GO","v":448},{"d":126,"s":"GO","v":456},{"d":127,"s":"GO","v":465},{"d":128,"s":"GO","v":474},{"d":129,"s":"GO","v":482},{"d":130,"s":"GO","v":491},{"d":131,"s":"GO","v":500},
{"d":1,"s":"DF","v":0},{"d":2,"s":"DF","v":0},{"d":3,"s":"DF","v":0},{"d":4,"s":"DF","v":0},{"d":5,"s":"DF","v":0},{"d":6,"s":"DF","v":0},{"d":7,"s":"DF","v":0},{"d":8,"s":"DF","v":0},{"d":9,"s":"DF","v":0},{"d":10,"s":"DF","v":0},{"d":11,"s":"DF","v":0},{"d":12,"s":"DF","v":0},{"d":13,"s":"DF","v":0},{"d":14,"s":"DF","v":0},{"d":15,"s":"DF","v":0},{"d":16,"s":"DF","v":0},{"d":17,"s":"DF","v":0},{"d":18,"s":"DF","v":0},{"d":19,"s":"DF","v":0},{"d":20,"s":"DF","v":0},{"d":21,"s":"DF","v":0},{"d":22,"s":"DF","v":0},{"d":23,"s":"DF","v":0},{"d":24,"s":"DF","v":0},{"d":25,"s":"DF","v":0},{"d":26,"s":"DF","v":0},{"d":27,"s":"DF","v":0},{"d":28,"s":"DF","v":0},{"d":29,"s":"DF","v":1},{"d":30,"s":"DF","v":2},{"d":31,"s":"DF","v":3},{"d":32,"s":"DF","v":5},{"d":33,"s":"DF","v":7},{"d":34,"s":"DF","v":9},{"d":35,"s":"DF","v":11},{"d":36,"s":"DF","v":13},{"d":37,"s":"DF","v":15},{"d":38,"s":"DF","v":17},{"d":39,"s":"DF","v":19},{"d":40,"s":"DF","v":21},{"d":41,"s":"DF","v":23},{"d":42,"s":"DF","v":25},{"d":43,"s":"DF","v":27},{"d":44,"s":"DF","v":28},{"d":45,"s":"DF","v":30},{"d":46,"s":"DF","v":32},{"d":47,"s":"DF","v":34},{"d":48,"s":"DF","v":36},{"d":49,"s":"DF","v":38},{"d":50,"s":"DF","v":40},{"d":51,"s":"DF","v":42},{"d":52,"s":"DF","v":44},{"d":53,"s":"DF","v":46},{"d":54,"s":"DF","v":48},{"d":55,"s":"DF","v":50},{"d":56,"s":"DF","v":52},{"d":57,"s":"DF","v":54},{"d":58,"s":"DF","v":56},{"d":59,"s":"DF","v":58},{"d":60,"s":"DF","v":60},{"d":61,"s":"DF","v":62},{"d":62,"s":"DF","v":64},{"d":63,"s":"DF","v":66},{"d":64,"s":"DF","v":68},{"d":65,"s":"DF","v":70},{"d":66,"s":"DF","v":72},{"d":67,"s":"DF","v":74},{"d":68,"s":"DF","v":76},{"d":69,"s":"DF","v":78},{"d":70,"s":"DF","v":80},{"d":71,"s":"DF","v":83},{"d":72,"s":"DF","v":86},{"d":73,"s":"DF","v":89},{"d":74,"s":"DF","v":92},{"d":75,"s":"DF","v":95},{"d":76,"s":"DF","v":98},{"d":77,"s":"DF","v":101},{"d":78,"s":"DF","v":104},{"d":79,"s":"DF","v":107},{"d":80,"s":"DF","v":110},{"d":81,"s":"DF","v":113},{"d":82,"s":"DF","v":116},{"d":83,"s":"DF","v":120},{"d":84,"s":"DF","v":124},{"d":85,"s":"DF","v":128},{"d":86,"s":"DF","v":132},{"d":87,"s":"DF","v":136},{"d":88,"s":"DF","v":140},{"d":89,"s":"DF","v":145},{"d":90,"s":"DF","v":150},{"d":91,"s":"DF","v":155},{"d":92,"s":"DF","v":160},{"d":93,"s":"DF","v":166},{"d":94,"s":"DF","v":172},{"d":96,"s":"DF","v":178},{"d":97,"s":"DF","v":184},{"d":98,"s":"DF","v":190},{"d":99,"s":"DF","v":196},{"d":100,"s":"DF","v":202},{"d":101,"s":"DF","v":210},{"d":102,"s":"DF","v":218},{"d":103,"s":"DF","v":228},{"d":104,"s":"DF","v":240},{"d":105,"s":"DF","v":255},{"d":106,"s":"DF","v":275},{"d":107,"s":"DF","v":295},{"d":108,"s":"DF","v":310},{"d":109,"s":"DF","v":330},{"d":110,"s":"DF","v":350},{"d":111,"s":"DF","v":365},{"d":112,"s":"DF","v":380},{"d":113,"s":"DF","v":390},{"d":114,"s":"DF","v":400},{"d":115,"s":"DF","v":410},{"d":116,"s":"DF","v":425},{"d":117,"s":"DF","v":450},{"d":118,"s":"DF","v":490},{"d":119,"s":"DF","v":520},{"d":120,"s":"DF","v":545},{"d":121,"s":"DF","v":null},{"d":122,"s":"DF","v":580},{"d":123,"s":"DF","v":600},{"d":124,"s":"DF","v":620},{"d":125,"s":"DF","v":640},{"d":126,"s":"DF","v":660},{"d":127,"s":"DF","v":690},{"d":128,"s":"DF","v":710},{"d":129,"s":"DF","v":740},{"d":130,"s":"DF","v":770},{"d":131,"s":"DF","v":805}
]},
"encoding":{
"x":{"field":"d","type":"ordinal","scale":{"type":"point","padding":0.37},"axis":{"title":"Dias de Contágio","values":[1,3,5,7,9,11,13,15,17,19,21,23,25,27,29,31,33,35,37,39,41,43,45,47,49,51,53,55,57,59,61,63,65,67,69,71,73,75,77,79,81,83,85,87,89,91,93,96,98,100,102,104,106,108,110,112,114,116,118,120,122,124,126,128,130],"labelAngle":-90,"labelFontSize":21,"labelColor":"#595959","labelPadding":10,"labelOverlap":false,"ticks":false,"tickSize":0,"domain":false,"grid":false,"titleFontSize":31,"titleFontWeight":"bold","titleColor":"#000000","titleX":920,"titleY":83,"titleAlign":"center","titleBaseline":"middle"}},
"y":{"field":"v","type":"quantitative","scale":{"domain":[0,15000],"nice":false,"zero":true},"axis":{"title":"Número de Óbitos","values":[0,2000,4000,6000,8000,10000,12000,14000],"format":"d","labelFontSize":21,"labelColor":"#595959","labelPadding":22,"ticks":false,"tickSize":0,"domain":false,"grid":true,"gridColor":"#d6d6d6","gridWidth":1.5,"titleFontSize":28,"titleFontWeight":"bold","titleColor":"#000000","titleAngle":-90,"titleX":-147,"titleY":332,"titleAlign":"center","titleBaseline":"middle"}},
"color":{"field":"s","type":"nominal","scale":{"domain":["RO","AC","AM","RR","PA","AP","TO","MA","PI","CE","RN","PB","PE","AL","SE","BA","MG","ES","RJ","SP","PR","SC","RS","MS","MT","GO","DF"],"range":["#70ad47","#9e480e","#997300","#43682b","#f4975a","#ffc832","#8fc46c","#d2631a","#cc9a00","#5b8c3a","#f4b183","#ffd966","#a9d18e","#843c0c","#7f6000","#375623","#f4a672","#ffd34d","#9dc97c","#c55a11","#bf9000","#4f7f2f","#f8cbad","#ffe38f","#c5e0b4","#ed7d31","#ff0000"]},"legend":{"orient":"none","legendX":282,"legendY":683,"direction":"horizontal","columns":14,"title":null,"symbolType":"stroke","symbolSize":1600,"symbolStrokeWidth":7,"labelFontSize":19,"labelColor":"#595959","labelFont":"Liberation Sans","labelOffset":3,"columnPadding":6,"rowPadding":4,"gridAlign":"all","padding":0}}
},
"layer":[
{"transform":[{"filter":"datum.s !== 'DF'"}],"mark":{"type":"line","strokeWidth":6,"clip":true,"strokeCap":"round","strokeJoin":"round"}},
{"transform":[{"filter":"datum.s === 'DF'"}],"mark":{"type":"line","strokeWidth":9,"clip":false,"strokeCap":"round","strokeJoin":"round","invalid":"break-paths-show-domains"}}
]}
